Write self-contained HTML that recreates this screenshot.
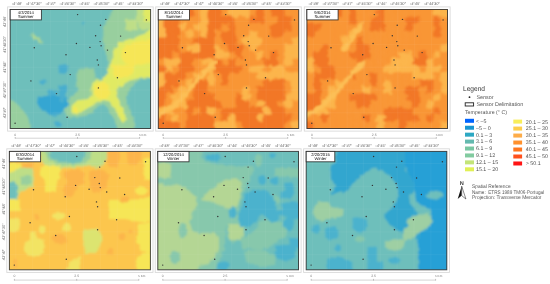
<!DOCTYPE html><html><head><meta charset="utf-8"><style>html,body{margin:0;padding:0;background:#fff;}body{width:550px;height:284px;overflow:hidden;font-family:"Liberation Sans",sans-serif;}svg{display:block} svg text{font-family:"Liberation Sans",sans-serif;text-rendering:geometricPrecision;}</style></head><body>
<svg width="550" height="284" viewBox="0 0 550 284" >
<defs><filter id="bl" x="-5%" y="-5%" width="110%" height="110%"><feTurbulence type="fractalNoise" baseFrequency="0.18" numOctaves="2" seed="7" result="n"/><feDisplacementMap in="SourceGraphic" in2="n" scale="7" xChannelSelector="R" yChannelSelector="G" result="d"/><feGaussianBlur in="d" stdDeviation="1.1"/></filter><filter id="bs" x="-5%" y="-5%" width="110%" height="110%"><feGaussianBlur stdDeviation="0.9"/></filter><filter id="bd" x="-5%" y="-5%" width="110%" height="110%"><feTurbulence type="fractalNoise" baseFrequency="0.25" numOctaves="2" seed="11" result="n"/><feDisplacementMap in="SourceGraphic" in2="n" scale="4" xChannelSelector="R" yChannelSelector="G" result="d"/><feGaussianBlur in="d" stdDeviation="0.8"/></filter>
<clipPath id="cp0"><rect x="10.20" y="9.50" width="140.40" height="119.00"/></clipPath>
<clipPath id="cp1"><rect x="158.30" y="9.50" width="140.40" height="119.00"/></clipPath>
<clipPath id="cp2"><rect x="306.90" y="9.50" width="140.60" height="119.00"/></clipPath>
<clipPath id="cp3"><rect x="9.40" y="151.40" width="141.00" height="118.40"/></clipPath>
<clipPath id="cp4"><rect x="157.80" y="151.40" width="140.70" height="118.40"/></clipPath>
<clipPath id="cp5"><rect x="306.20" y="151.40" width="140.60" height="118.40"/></clipPath>
</defs>
<rect width="550" height="284" fill="#fff"/>
<rect x="7.60" y="6.90" width="145.60" height="124.20" fill="none" stroke="#d9d9d9" stroke-width="0.9"/>
<g clip-path="url(#cp0)"><g filter="url(#bd)">
<rect x="6.20" y="5.50" width="148.40" height="127.00" fill="rgb(110,191,187)"/>
<polygon points="115.0,5.5 110.5,15.3 106.0,21.7 102.5,28.0 103.5,34.0 102.5,40.0 104.0,47.0 106.0,55.5 108.0,64.0 107.0,69.0 100.0,70.0 92.0,69.0 85.0,68.0 78.0,70.0 76.0,76.0 76.0,84.0 78.0,90.0 75.0,95.0 70.0,98.0 66.0,104.0 65.0,112.0 68.0,117.0 75.0,118.0 84.0,116.0 92.0,113.0 98.0,106.0 104.0,104.0 108.0,108.0 112.0,116.0 116.0,124.0 118.0,132.5 135.0,132.5 134.0,120.0 130.0,112.0 127.0,104.0 127.0,96.0 130.0,88.0 136.0,82.0 144.0,78.0 154.6,76.0 154.6,5.5" fill="rgb(152,207,158)"/>
<polygon points="94.0,69.0 108.0,69.0 110.0,74.0 104.0,79.0 96.0,79.0" fill="rgb(110,191,187)"/>
<polygon points="137.0,5.5 154.6,5.5 154.6,30.0 140.0,30.0 137.0,20.0" fill="rgb(190,222,135)"/>
<polygon points="143.6,5.5 154.6,5.5 154.6,21.7 143.6,21.7" fill="rgb(225,234,100)"/>
<polygon points="125.0,19.6 137.0,19.6 137.0,30.0 125.0,30.0" fill="rgb(190,222,135)"/>
<polygon points="154.6,28.0 137.3,36.5 126.7,40.7 118.3,42.8 114.0,51.3 111.9,59.7 109.0,68.0 106.0,76.0 100.0,80.0 94.0,81.0 91.0,86.0 92.0,95.0 88.0,99.0 80.0,100.0 73.0,104.0 70.0,110.0 73.0,114.0 80.0,113.0 88.0,108.0 96.0,103.0 104.0,100.0 110.0,102.0 114.0,108.0 118.0,116.0 122.0,122.0 126.0,120.0 124.0,112.0 120.0,104.0 116.0,96.0 118.0,88.0 124.0,84.0 132.0,80.0 140.0,78.0 154.6,77.0" fill="rgb(225,234,100)"/>
<polygon points="154.6,38.0 135.0,42.0 127.0,45.0 122.0,50.0 121.0,58.0 125.0,64.0 135.0,66.0 154.6,62.0" fill="rgb(246,230,86)"/>
<ellipse cx="102.0" cy="90.5" rx="8.0" ry="9.0" fill="rgb(246,230,86)"/>
<polygon points="112.0,65.0 134.0,65.0 134.0,72.0 126.0,78.0 114.0,78.0" fill="rgb(246,230,86)"/>
<ellipse cx="75.7" cy="109.5" rx="2.5" ry="2.8" fill="rgb(246,230,86)"/>
<polygon points="59.0,65.0 66.0,64.0 68.5,67.0 67.0,72.0 63.0,75.0 59.0,73.0 58.0,69.0" fill="rgb(72,174,206)"/>
<ellipse cx="43.0" cy="82.0" rx="2.8" ry="2.8" fill="rgb(72,174,206)"/>
<polygon points="58.0,85.0 66.0,84.5 67.5,88.0 65.0,93.0 59.0,92.0" fill="rgb(72,174,206)"/>
<polygon points="47.0,90.0 53.0,89.0 58.0,93.0 56.0,97.0 48.0,97.0" fill="rgb(72,174,206)"/>
<polygon points="37.0,98.0 45.0,96.0 55.0,95.5 66.0,97.0 68.5,102.0 67.0,108.0 60.0,113.0 52.0,114.5 45.0,112.0 40.0,108.0 37.0,103.0" fill="rgb(52,166,210)"/>
<ellipse cx="54.5" cy="114.5" rx="3.5" ry="1.8" fill="rgb(72,174,206)"/>
<ellipse cx="58.0" cy="124.0" rx="3.0" ry="3.0" fill="rgb(72,174,206)"/>
<ellipse cx="62.0" cy="95.0" rx="3.0" ry="8.0" fill="rgb(72,174,206)"/>
<ellipse cx="83.3" cy="23.0" rx="1.3" ry="1.3" fill="rgb(75,178,205)"/>
<polygon points="6.2,99.0 14.0,101.0 19.0,106.0 24.0,111.0 28.0,118.0 30.0,124.0 31.0,132.5 6.2,132.5" fill="rgb(152,207,158)"/>
<line x1="32.2" y1="34.8" x2="41.7" y2="42.4" stroke="rgb(152,207,158)" stroke-width="2.8" stroke-linecap="round"/>
<line x1="33.5" y1="36.0" x2="40.0" y2="41.0" stroke="rgb(190,222,135)" stroke-width="1.2" stroke-linecap="round"/>
</g></g>
<line x1="16.60" y1="9.50" x2="16.60" y2="128.50" stroke="rgba(255,255,255,0.07)" stroke-width="0.7"/>
<line x1="33.50" y1="9.50" x2="33.50" y2="128.50" stroke="rgba(255,255,255,0.07)" stroke-width="0.7"/>
<line x1="50.40" y1="9.50" x2="50.40" y2="128.50" stroke="rgba(255,255,255,0.07)" stroke-width="0.7"/>
<line x1="67.30" y1="9.50" x2="67.30" y2="128.50" stroke="rgba(255,255,255,0.07)" stroke-width="0.7"/>
<line x1="84.20" y1="9.50" x2="84.20" y2="128.50" stroke="rgba(255,255,255,0.07)" stroke-width="0.7"/>
<line x1="101.10" y1="9.50" x2="101.10" y2="128.50" stroke="rgba(255,255,255,0.07)" stroke-width="0.7"/>
<line x1="118.00" y1="9.50" x2="118.00" y2="128.50" stroke="rgba(255,255,255,0.07)" stroke-width="0.7"/>
<line x1="134.90" y1="9.50" x2="134.90" y2="128.50" stroke="rgba(255,255,255,0.07)" stroke-width="0.7"/>
<line x1="10.20" y1="21.60" x2="150.60" y2="21.60" stroke="rgba(255,255,255,0.07)" stroke-width="0.7"/>
<line x1="10.20" y1="44.40" x2="150.60" y2="44.40" stroke="rgba(255,255,255,0.07)" stroke-width="0.7"/>
<line x1="10.20" y1="67.20" x2="150.60" y2="67.20" stroke="rgba(255,255,255,0.07)" stroke-width="0.7"/>
<line x1="10.20" y1="90.00" x2="150.60" y2="90.00" stroke="rgba(255,255,255,0.07)" stroke-width="0.7"/>
<line x1="10.20" y1="112.80" x2="150.60" y2="112.80" stroke="rgba(255,255,255,0.07)" stroke-width="0.7"/>
<circle cx="34.30" cy="47.80" r="0.72" fill="#333"/>
<circle cx="66.00" cy="54.80" r="0.72" fill="#333"/>
<circle cx="76.40" cy="43.50" r="0.72" fill="#333"/>
<circle cx="77.60" cy="14.60" r="0.72" fill="#333"/>
<circle cx="105.80" cy="19.40" r="0.72" fill="#333"/>
<circle cx="100.50" cy="25.20" r="0.72" fill="#333"/>
<circle cx="95.60" cy="35.70" r="0.72" fill="#333"/>
<circle cx="120.60" cy="36.10" r="0.72" fill="#333"/>
<circle cx="100.10" cy="41.60" r="0.72" fill="#333"/>
<circle cx="101.10" cy="45.70" r="0.72" fill="#333"/>
<circle cx="89.90" cy="47.40" r="0.72" fill="#333"/>
<circle cx="107.50" cy="50.10" r="0.72" fill="#333"/>
<circle cx="125.40" cy="52.60" r="0.72" fill="#333"/>
<circle cx="97.30" cy="60.00" r="0.72" fill="#333"/>
<circle cx="98.40" cy="64.90" r="0.72" fill="#333"/>
<circle cx="146.40" cy="19.90" r="0.72" fill="#333"/>
<circle cx="30.90" cy="80.90" r="0.72" fill="#333"/>
<circle cx="56.50" cy="93.60" r="0.72" fill="#333"/>
<circle cx="67.10" cy="117.30" r="0.72" fill="#333"/>
<circle cx="15.10" cy="123.20" r="0.72" fill="#333"/>
<circle cx="70.20" cy="74.60" r="0.72" fill="#333"/>
<circle cx="117.40" cy="77.80" r="0.72" fill="#333"/>
<circle cx="98.40" cy="87.90" r="0.72" fill="#333"/>
<rect x="10.20" y="9.50" width="140.40" height="119.00" fill="none" stroke="rgba(30,30,30,0.8)" stroke-width="1"/>
<rect x="10.20" y="9.50" width="31.20" height="10.4" fill="#fff" stroke="rgba(30,30,30,0.85)" stroke-width="0.9"/>
<text opacity="0.99" x="25.80" y="13.90" font-size="4.2" text-anchor="middle" fill="#000">4/3/2014</text>
<text opacity="0.99" x="25.80" y="18.40" font-size="4.2" text-anchor="middle" fill="#000">Summer</text>
<text opacity="0.99" x="16.80" y="5.30" font-size="3.9" font-style="italic" text-anchor="middle" fill="#666">-4°48'</text>
<text opacity="0.99" x="33.70" y="5.30" font-size="3.9" font-style="italic" text-anchor="middle" fill="#666">-4°47'30&quot;</text>
<text opacity="0.99" x="50.60" y="5.30" font-size="3.9" font-style="italic" text-anchor="middle" fill="#666">-4°47'</text>
<text opacity="0.99" x="67.50" y="5.30" font-size="3.9" font-style="italic" text-anchor="middle" fill="#666">-4°46'30&quot;</text>
<text opacity="0.99" x="84.40" y="5.30" font-size="3.9" font-style="italic" text-anchor="middle" fill="#666">-4°46'</text>
<text opacity="0.99" x="101.30" y="5.30" font-size="3.9" font-style="italic" text-anchor="middle" fill="#666">-4°45'30&quot;</text>
<text opacity="0.99" x="118.20" y="5.30" font-size="3.9" font-style="italic" text-anchor="middle" fill="#666">-4°45'</text>
<text opacity="0.99" x="135.10" y="5.30" font-size="3.9" font-style="italic" text-anchor="middle" fill="#666">-4°44'30&quot;</text>
<text opacity="0.99" x="0" y="0" font-size="3.9" font-style="italic" text-anchor="middle" fill="#666" transform="translate(6.00,21.60) rotate(-90)">41°49'</text>
<text opacity="0.99" x="0" y="0" font-size="3.9" font-style="italic" text-anchor="middle" fill="#666" transform="translate(6.00,44.40) rotate(-90)">41°48'30&quot;</text>
<text opacity="0.99" x="0" y="0" font-size="3.9" font-style="italic" text-anchor="middle" fill="#666" transform="translate(6.00,67.20) rotate(-90)">41°48'</text>
<text opacity="0.99" x="0" y="0" font-size="3.9" font-style="italic" text-anchor="middle" fill="#666" transform="translate(6.00,90.00) rotate(-90)">41°47'30&quot;</text>
<text opacity="0.99" x="0" y="0" font-size="3.9" font-style="italic" text-anchor="middle" fill="#666" transform="translate(6.00,112.80) rotate(-90)">41°47'</text>
<line x1="15.20" y1="138.20" x2="139.60" y2="138.20" stroke="#cfcfcf" stroke-width="0.9"/>
<line x1="15.20" y1="137.00" x2="15.20" y2="138.70" stroke="#9a9a9a" stroke-width="0.6"/>
<line x1="77.50" y1="137.00" x2="77.50" y2="138.70" stroke="#9a9a9a" stroke-width="0.6"/>
<line x1="139.60" y1="137.00" x2="139.60" y2="138.70" stroke="#9a9a9a" stroke-width="0.6"/>
<text opacity="0.99" x="15.20" y="135.50" font-size="3.4" text-anchor="middle" fill="#777">0</text>
<text opacity="0.99" x="77.50" y="135.50" font-size="3.4" text-anchor="middle" fill="#777">2.5</text>
<text opacity="0.99" x="139.00" y="135.50" font-size="3.1" text-anchor="start" fill="#777">5 Km</text>
<rect x="155.70" y="6.90" width="145.60" height="124.20" fill="none" stroke="#d9d9d9" stroke-width="0.9"/>
<g clip-path="url(#cp1)"><g filter="url(#bl)">
<rect x="144.26" y="-4.50" width="7.62" height="7.60" fill="rgb(242,119,38)"/>
<rect x="151.28" y="-4.50" width="7.62" height="7.60" fill="rgb(242,119,38)"/>
<rect x="158.30" y="-4.50" width="7.62" height="7.60" fill="rgb(242,119,38)"/>
<rect x="165.32" y="-4.50" width="7.62" height="7.60" fill="rgb(242,119,38)"/>
<rect x="172.34" y="-4.50" width="7.62" height="7.60" fill="rgb(242,119,38)"/>
<rect x="179.36" y="-4.50" width="7.62" height="7.60" fill="rgb(242,119,38)"/>
<rect x="186.38" y="-4.50" width="7.62" height="7.60" fill="rgb(242,119,38)"/>
<rect x="193.40" y="-4.50" width="7.62" height="7.60" fill="rgb(249,150,54)"/>
<rect x="200.42" y="-4.50" width="7.62" height="7.60" fill="rgb(252,181,75)"/>
<rect x="207.44" y="-4.50" width="7.62" height="7.60" fill="rgb(242,119,38)"/>
<rect x="214.46" y="-4.50" width="7.62" height="7.60" fill="rgb(242,119,38)"/>
<rect x="221.48" y="-4.50" width="7.62" height="7.60" fill="rgb(249,150,54)"/>
<rect x="228.50" y="-4.50" width="7.62" height="7.60" fill="rgb(252,181,75)"/>
<rect x="235.52" y="-4.50" width="7.62" height="7.60" fill="rgb(252,181,75)"/>
<rect x="242.54" y="-4.50" width="7.62" height="7.60" fill="rgb(252,181,75)"/>
<rect x="249.56" y="-4.50" width="7.62" height="7.60" fill="rgb(249,150,54)"/>
<rect x="256.58" y="-4.50" width="7.62" height="7.60" fill="rgb(242,119,38)"/>
<rect x="263.60" y="-4.50" width="7.62" height="7.60" fill="rgb(249,150,54)"/>
<rect x="270.62" y="-4.50" width="7.62" height="7.60" fill="rgb(242,119,38)"/>
<rect x="277.64" y="-4.50" width="7.62" height="7.60" fill="rgb(242,119,38)"/>
<rect x="284.66" y="-4.50" width="7.62" height="7.60" fill="rgb(249,150,54)"/>
<rect x="291.68" y="-4.50" width="7.62" height="7.60" fill="rgb(249,150,54)"/>
<rect x="298.70" y="-4.50" width="7.62" height="7.60" fill="rgb(249,150,54)"/>
<rect x="305.72" y="-4.50" width="7.62" height="7.60" fill="rgb(249,150,54)"/>
<rect x="144.26" y="2.50" width="7.62" height="7.60" fill="rgb(242,119,38)"/>
<rect x="151.28" y="2.50" width="7.62" height="7.60" fill="rgb(242,119,38)"/>
<rect x="158.30" y="2.50" width="7.62" height="7.60" fill="rgb(242,119,38)"/>
<rect x="165.32" y="2.50" width="7.62" height="7.60" fill="rgb(242,119,38)"/>
<rect x="172.34" y="2.50" width="7.62" height="7.60" fill="rgb(242,119,38)"/>
<rect x="179.36" y="2.50" width="7.62" height="7.60" fill="rgb(242,119,38)"/>
<rect x="186.38" y="2.50" width="7.62" height="7.60" fill="rgb(242,119,38)"/>
<rect x="193.40" y="2.50" width="7.62" height="7.60" fill="rgb(249,150,54)"/>
<rect x="200.42" y="2.50" width="7.62" height="7.60" fill="rgb(252,181,75)"/>
<rect x="207.44" y="2.50" width="7.62" height="7.60" fill="rgb(242,119,38)"/>
<rect x="214.46" y="2.50" width="7.62" height="7.60" fill="rgb(242,119,38)"/>
<rect x="221.48" y="2.50" width="7.62" height="7.60" fill="rgb(249,150,54)"/>
<rect x="228.50" y="2.50" width="7.62" height="7.60" fill="rgb(252,181,75)"/>
<rect x="235.52" y="2.50" width="7.62" height="7.60" fill="rgb(252,181,75)"/>
<rect x="242.54" y="2.50" width="7.62" height="7.60" fill="rgb(252,181,75)"/>
<rect x="249.56" y="2.50" width="7.62" height="7.60" fill="rgb(249,150,54)"/>
<rect x="256.58" y="2.50" width="7.62" height="7.60" fill="rgb(242,119,38)"/>
<rect x="263.60" y="2.50" width="7.62" height="7.60" fill="rgb(249,150,54)"/>
<rect x="270.62" y="2.50" width="7.62" height="7.60" fill="rgb(242,119,38)"/>
<rect x="277.64" y="2.50" width="7.62" height="7.60" fill="rgb(242,119,38)"/>
<rect x="284.66" y="2.50" width="7.62" height="7.60" fill="rgb(249,150,54)"/>
<rect x="291.68" y="2.50" width="7.62" height="7.60" fill="rgb(249,150,54)"/>
<rect x="298.70" y="2.50" width="7.62" height="7.60" fill="rgb(249,150,54)"/>
<rect x="305.72" y="2.50" width="7.62" height="7.60" fill="rgb(249,150,54)"/>
<rect x="144.26" y="9.50" width="7.62" height="7.60" fill="rgb(242,119,38)"/>
<rect x="151.28" y="9.50" width="7.62" height="7.60" fill="rgb(242,119,38)"/>
<rect x="158.30" y="9.50" width="7.62" height="7.60" fill="rgb(242,119,38)"/>
<rect x="165.32" y="9.50" width="7.62" height="7.60" fill="rgb(242,119,38)"/>
<rect x="172.34" y="9.50" width="7.62" height="7.60" fill="rgb(242,119,38)"/>
<rect x="179.36" y="9.50" width="7.62" height="7.60" fill="rgb(242,119,38)"/>
<rect x="186.38" y="9.50" width="7.62" height="7.60" fill="rgb(242,119,38)"/>
<rect x="193.40" y="9.50" width="7.62" height="7.60" fill="rgb(249,150,54)"/>
<rect x="200.42" y="9.50" width="7.62" height="7.60" fill="rgb(252,181,75)"/>
<rect x="207.44" y="9.50" width="7.62" height="7.60" fill="rgb(242,119,38)"/>
<rect x="214.46" y="9.50" width="7.62" height="7.60" fill="rgb(242,119,38)"/>
<rect x="221.48" y="9.50" width="7.62" height="7.60" fill="rgb(249,150,54)"/>
<rect x="228.50" y="9.50" width="7.62" height="7.60" fill="rgb(252,181,75)"/>
<rect x="235.52" y="9.50" width="7.62" height="7.60" fill="rgb(252,181,75)"/>
<rect x="242.54" y="9.50" width="7.62" height="7.60" fill="rgb(252,181,75)"/>
<rect x="249.56" y="9.50" width="7.62" height="7.60" fill="rgb(249,150,54)"/>
<rect x="256.58" y="9.50" width="7.62" height="7.60" fill="rgb(242,119,38)"/>
<rect x="263.60" y="9.50" width="7.62" height="7.60" fill="rgb(249,150,54)"/>
<rect x="270.62" y="9.50" width="7.62" height="7.60" fill="rgb(242,119,38)"/>
<rect x="277.64" y="9.50" width="7.62" height="7.60" fill="rgb(242,119,38)"/>
<rect x="284.66" y="9.50" width="7.62" height="7.60" fill="rgb(249,150,54)"/>
<rect x="291.68" y="9.50" width="7.62" height="7.60" fill="rgb(249,150,54)"/>
<rect x="298.70" y="9.50" width="7.62" height="7.60" fill="rgb(249,150,54)"/>
<rect x="305.72" y="9.50" width="7.62" height="7.60" fill="rgb(249,150,54)"/>
<rect x="144.26" y="16.50" width="7.62" height="7.60" fill="rgb(252,181,75)"/>
<rect x="151.28" y="16.50" width="7.62" height="7.60" fill="rgb(252,181,75)"/>
<rect x="158.30" y="16.50" width="7.62" height="7.60" fill="rgb(252,181,75)"/>
<rect x="165.32" y="16.50" width="7.62" height="7.60" fill="rgb(242,119,38)"/>
<rect x="172.34" y="16.50" width="7.62" height="7.60" fill="rgb(242,119,38)"/>
<rect x="179.36" y="16.50" width="7.62" height="7.60" fill="rgb(249,150,54)"/>
<rect x="186.38" y="16.50" width="7.62" height="7.60" fill="rgb(249,150,54)"/>
<rect x="193.40" y="16.50" width="7.62" height="7.60" fill="rgb(249,150,54)"/>
<rect x="200.42" y="16.50" width="7.62" height="7.60" fill="rgb(252,181,75)"/>
<rect x="207.44" y="16.50" width="7.62" height="7.60" fill="rgb(242,119,38)"/>
<rect x="214.46" y="16.50" width="7.62" height="7.60" fill="rgb(242,119,38)"/>
<rect x="221.48" y="16.50" width="7.62" height="7.60" fill="rgb(242,119,38)"/>
<rect x="228.50" y="16.50" width="7.62" height="7.60" fill="rgb(242,119,38)"/>
<rect x="235.52" y="16.50" width="7.62" height="7.60" fill="rgb(249,150,54)"/>
<rect x="242.54" y="16.50" width="7.62" height="7.60" fill="rgb(249,150,54)"/>
<rect x="249.56" y="16.50" width="7.62" height="7.60" fill="rgb(242,119,38)"/>
<rect x="256.58" y="16.50" width="7.62" height="7.60" fill="rgb(242,119,38)"/>
<rect x="263.60" y="16.50" width="7.62" height="7.60" fill="rgb(249,150,54)"/>
<rect x="270.62" y="16.50" width="7.62" height="7.60" fill="rgb(249,150,54)"/>
<rect x="277.64" y="16.50" width="7.62" height="7.60" fill="rgb(242,119,38)"/>
<rect x="284.66" y="16.50" width="7.62" height="7.60" fill="rgb(242,119,38)"/>
<rect x="291.68" y="16.50" width="7.62" height="7.60" fill="rgb(249,150,54)"/>
<rect x="298.70" y="16.50" width="7.62" height="7.60" fill="rgb(249,150,54)"/>
<rect x="305.72" y="16.50" width="7.62" height="7.60" fill="rgb(249,150,54)"/>
<rect x="144.26" y="23.50" width="7.62" height="7.60" fill="rgb(252,181,75)"/>
<rect x="151.28" y="23.50" width="7.62" height="7.60" fill="rgb(252,181,75)"/>
<rect x="158.30" y="23.50" width="7.62" height="7.60" fill="rgb(252,181,75)"/>
<rect x="165.32" y="23.50" width="7.62" height="7.60" fill="rgb(242,119,38)"/>
<rect x="172.34" y="23.50" width="7.62" height="7.60" fill="rgb(242,119,38)"/>
<rect x="179.36" y="23.50" width="7.62" height="7.60" fill="rgb(252,181,75)"/>
<rect x="186.38" y="23.50" width="7.62" height="7.60" fill="rgb(249,150,54)"/>
<rect x="193.40" y="23.50" width="7.62" height="7.60" fill="rgb(252,181,75)"/>
<rect x="200.42" y="23.50" width="7.62" height="7.60" fill="rgb(252,181,75)"/>
<rect x="207.44" y="23.50" width="7.62" height="7.60" fill="rgb(242,119,38)"/>
<rect x="214.46" y="23.50" width="7.62" height="7.60" fill="rgb(242,119,38)"/>
<rect x="221.48" y="23.50" width="7.62" height="7.60" fill="rgb(249,150,54)"/>
<rect x="228.50" y="23.50" width="7.62" height="7.60" fill="rgb(242,119,38)"/>
<rect x="235.52" y="23.50" width="7.62" height="7.60" fill="rgb(249,150,54)"/>
<rect x="242.54" y="23.50" width="7.62" height="7.60" fill="rgb(249,150,54)"/>
<rect x="249.56" y="23.50" width="7.62" height="7.60" fill="rgb(249,150,54)"/>
<rect x="256.58" y="23.50" width="7.62" height="7.60" fill="rgb(249,150,54)"/>
<rect x="263.60" y="23.50" width="7.62" height="7.60" fill="rgb(249,150,54)"/>
<rect x="270.62" y="23.50" width="7.62" height="7.60" fill="rgb(242,119,38)"/>
<rect x="277.64" y="23.50" width="7.62" height="7.60" fill="rgb(242,119,38)"/>
<rect x="284.66" y="23.50" width="7.62" height="7.60" fill="rgb(242,119,38)"/>
<rect x="291.68" y="23.50" width="7.62" height="7.60" fill="rgb(249,150,54)"/>
<rect x="298.70" y="23.50" width="7.62" height="7.60" fill="rgb(249,150,54)"/>
<rect x="305.72" y="23.50" width="7.62" height="7.60" fill="rgb(249,150,54)"/>
<rect x="144.26" y="30.50" width="7.62" height="7.60" fill="rgb(252,181,75)"/>
<rect x="151.28" y="30.50" width="7.62" height="7.60" fill="rgb(252,181,75)"/>
<rect x="158.30" y="30.50" width="7.62" height="7.60" fill="rgb(252,181,75)"/>
<rect x="165.32" y="30.50" width="7.62" height="7.60" fill="rgb(242,119,38)"/>
<rect x="172.34" y="30.50" width="7.62" height="7.60" fill="rgb(242,119,38)"/>
<rect x="179.36" y="30.50" width="7.62" height="7.60" fill="rgb(249,150,54)"/>
<rect x="186.38" y="30.50" width="7.62" height="7.60" fill="rgb(252,181,75)"/>
<rect x="193.40" y="30.50" width="7.62" height="7.60" fill="rgb(249,150,54)"/>
<rect x="200.42" y="30.50" width="7.62" height="7.60" fill="rgb(252,181,75)"/>
<rect x="207.44" y="30.50" width="7.62" height="7.60" fill="rgb(242,119,38)"/>
<rect x="214.46" y="30.50" width="7.62" height="7.60" fill="rgb(249,150,54)"/>
<rect x="221.48" y="30.50" width="7.62" height="7.60" fill="rgb(242,119,38)"/>
<rect x="228.50" y="30.50" width="7.62" height="7.60" fill="rgb(242,119,38)"/>
<rect x="235.52" y="30.50" width="7.62" height="7.60" fill="rgb(249,150,54)"/>
<rect x="242.54" y="30.50" width="7.62" height="7.60" fill="rgb(249,150,54)"/>
<rect x="249.56" y="30.50" width="7.62" height="7.60" fill="rgb(252,181,75)"/>
<rect x="256.58" y="30.50" width="7.62" height="7.60" fill="rgb(249,150,54)"/>
<rect x="263.60" y="30.50" width="7.62" height="7.60" fill="rgb(249,150,54)"/>
<rect x="270.62" y="30.50" width="7.62" height="7.60" fill="rgb(242,119,38)"/>
<rect x="277.64" y="30.50" width="7.62" height="7.60" fill="rgb(242,119,38)"/>
<rect x="284.66" y="30.50" width="7.62" height="7.60" fill="rgb(249,150,54)"/>
<rect x="291.68" y="30.50" width="7.62" height="7.60" fill="rgb(249,150,54)"/>
<rect x="298.70" y="30.50" width="7.62" height="7.60" fill="rgb(249,150,54)"/>
<rect x="305.72" y="30.50" width="7.62" height="7.60" fill="rgb(249,150,54)"/>
<rect x="144.26" y="37.50" width="7.62" height="7.60" fill="rgb(242,119,38)"/>
<rect x="151.28" y="37.50" width="7.62" height="7.60" fill="rgb(242,119,38)"/>
<rect x="158.30" y="37.50" width="7.62" height="7.60" fill="rgb(242,119,38)"/>
<rect x="165.32" y="37.50" width="7.62" height="7.60" fill="rgb(242,119,38)"/>
<rect x="172.34" y="37.50" width="7.62" height="7.60" fill="rgb(242,119,38)"/>
<rect x="179.36" y="37.50" width="7.62" height="7.60" fill="rgb(249,150,54)"/>
<rect x="186.38" y="37.50" width="7.62" height="7.60" fill="rgb(249,150,54)"/>
<rect x="193.40" y="37.50" width="7.62" height="7.60" fill="rgb(242,119,38)"/>
<rect x="200.42" y="37.50" width="7.62" height="7.60" fill="rgb(242,119,38)"/>
<rect x="207.44" y="37.50" width="7.62" height="7.60" fill="rgb(242,119,38)"/>
<rect x="214.46" y="37.50" width="7.62" height="7.60" fill="rgb(249,150,54)"/>
<rect x="221.48" y="37.50" width="7.62" height="7.60" fill="rgb(242,119,38)"/>
<rect x="228.50" y="37.50" width="7.62" height="7.60" fill="rgb(242,119,38)"/>
<rect x="235.52" y="37.50" width="7.62" height="7.60" fill="rgb(249,150,54)"/>
<rect x="242.54" y="37.50" width="7.62" height="7.60" fill="rgb(252,181,75)"/>
<rect x="249.56" y="37.50" width="7.62" height="7.60" fill="rgb(252,181,75)"/>
<rect x="256.58" y="37.50" width="7.62" height="7.60" fill="rgb(252,181,75)"/>
<rect x="263.60" y="37.50" width="7.62" height="7.60" fill="rgb(249,150,54)"/>
<rect x="270.62" y="37.50" width="7.62" height="7.60" fill="rgb(249,150,54)"/>
<rect x="277.64" y="37.50" width="7.62" height="7.60" fill="rgb(249,150,54)"/>
<rect x="284.66" y="37.50" width="7.62" height="7.60" fill="rgb(249,150,54)"/>
<rect x="291.68" y="37.50" width="7.62" height="7.60" fill="rgb(252,181,75)"/>
<rect x="298.70" y="37.50" width="7.62" height="7.60" fill="rgb(252,181,75)"/>
<rect x="305.72" y="37.50" width="7.62" height="7.60" fill="rgb(252,181,75)"/>
<rect x="144.26" y="44.50" width="7.62" height="7.60" fill="rgb(242,119,38)"/>
<rect x="151.28" y="44.50" width="7.62" height="7.60" fill="rgb(242,119,38)"/>
<rect x="158.30" y="44.50" width="7.62" height="7.60" fill="rgb(242,119,38)"/>
<rect x="165.32" y="44.50" width="7.62" height="7.60" fill="rgb(242,119,38)"/>
<rect x="172.34" y="44.50" width="7.62" height="7.60" fill="rgb(242,119,38)"/>
<rect x="179.36" y="44.50" width="7.62" height="7.60" fill="rgb(249,150,54)"/>
<rect x="186.38" y="44.50" width="7.62" height="7.60" fill="rgb(252,181,75)"/>
<rect x="193.40" y="44.50" width="7.62" height="7.60" fill="rgb(252,181,75)"/>
<rect x="200.42" y="44.50" width="7.62" height="7.60" fill="rgb(242,119,38)"/>
<rect x="207.44" y="44.50" width="7.62" height="7.60" fill="rgb(242,119,38)"/>
<rect x="214.46" y="44.50" width="7.62" height="7.60" fill="rgb(252,181,75)"/>
<rect x="221.48" y="44.50" width="7.62" height="7.60" fill="rgb(249,150,54)"/>
<rect x="228.50" y="44.50" width="7.62" height="7.60" fill="rgb(242,119,38)"/>
<rect x="235.52" y="44.50" width="7.62" height="7.60" fill="rgb(242,119,38)"/>
<rect x="242.54" y="44.50" width="7.62" height="7.60" fill="rgb(249,150,54)"/>
<rect x="249.56" y="44.50" width="7.62" height="7.60" fill="rgb(252,181,75)"/>
<rect x="256.58" y="44.50" width="7.62" height="7.60" fill="rgb(249,150,54)"/>
<rect x="263.60" y="44.50" width="7.62" height="7.60" fill="rgb(249,150,54)"/>
<rect x="270.62" y="44.50" width="7.62" height="7.60" fill="rgb(249,150,54)"/>
<rect x="277.64" y="44.50" width="7.62" height="7.60" fill="rgb(249,150,54)"/>
<rect x="284.66" y="44.50" width="7.62" height="7.60" fill="rgb(252,181,75)"/>
<rect x="291.68" y="44.50" width="7.62" height="7.60" fill="rgb(252,181,75)"/>
<rect x="298.70" y="44.50" width="7.62" height="7.60" fill="rgb(252,181,75)"/>
<rect x="305.72" y="44.50" width="7.62" height="7.60" fill="rgb(252,181,75)"/>
<rect x="144.26" y="51.50" width="7.62" height="7.60" fill="rgb(242,119,38)"/>
<rect x="151.28" y="51.50" width="7.62" height="7.60" fill="rgb(242,119,38)"/>
<rect x="158.30" y="51.50" width="7.62" height="7.60" fill="rgb(242,119,38)"/>
<rect x="165.32" y="51.50" width="7.62" height="7.60" fill="rgb(242,119,38)"/>
<rect x="172.34" y="51.50" width="7.62" height="7.60" fill="rgb(249,150,54)"/>
<rect x="179.36" y="51.50" width="7.62" height="7.60" fill="rgb(242,119,38)"/>
<rect x="186.38" y="51.50" width="7.62" height="7.60" fill="rgb(242,119,38)"/>
<rect x="193.40" y="51.50" width="7.62" height="7.60" fill="rgb(242,119,38)"/>
<rect x="200.42" y="51.50" width="7.62" height="7.60" fill="rgb(242,119,38)"/>
<rect x="207.44" y="51.50" width="7.62" height="7.60" fill="rgb(242,119,38)"/>
<rect x="214.46" y="51.50" width="7.62" height="7.60" fill="rgb(252,181,75)"/>
<rect x="221.48" y="51.50" width="7.62" height="7.60" fill="rgb(252,181,75)"/>
<rect x="228.50" y="51.50" width="7.62" height="7.60" fill="rgb(249,150,54)"/>
<rect x="235.52" y="51.50" width="7.62" height="7.60" fill="rgb(242,119,38)"/>
<rect x="242.54" y="51.50" width="7.62" height="7.60" fill="rgb(249,150,54)"/>
<rect x="249.56" y="51.50" width="7.62" height="7.60" fill="rgb(249,150,54)"/>
<rect x="256.58" y="51.50" width="7.62" height="7.60" fill="rgb(252,181,75)"/>
<rect x="263.60" y="51.50" width="7.62" height="7.60" fill="rgb(249,150,54)"/>
<rect x="270.62" y="51.50" width="7.62" height="7.60" fill="rgb(242,119,38)"/>
<rect x="277.64" y="51.50" width="7.62" height="7.60" fill="rgb(249,150,54)"/>
<rect x="284.66" y="51.50" width="7.62" height="7.60" fill="rgb(252,181,75)"/>
<rect x="291.68" y="51.50" width="7.62" height="7.60" fill="rgb(252,181,75)"/>
<rect x="298.70" y="51.50" width="7.62" height="7.60" fill="rgb(252,181,75)"/>
<rect x="305.72" y="51.50" width="7.62" height="7.60" fill="rgb(252,181,75)"/>
<rect x="144.26" y="58.50" width="7.62" height="7.60" fill="rgb(249,150,54)"/>
<rect x="151.28" y="58.50" width="7.62" height="7.60" fill="rgb(249,150,54)"/>
<rect x="158.30" y="58.50" width="7.62" height="7.60" fill="rgb(249,150,54)"/>
<rect x="165.32" y="58.50" width="7.62" height="7.60" fill="rgb(252,181,75)"/>
<rect x="172.34" y="58.50" width="7.62" height="7.60" fill="rgb(252,181,75)"/>
<rect x="179.36" y="58.50" width="7.62" height="7.60" fill="rgb(242,119,38)"/>
<rect x="186.38" y="58.50" width="7.62" height="7.60" fill="rgb(242,119,38)"/>
<rect x="193.40" y="58.50" width="7.62" height="7.60" fill="rgb(249,150,54)"/>
<rect x="200.42" y="58.50" width="7.62" height="7.60" fill="rgb(252,181,75)"/>
<rect x="207.44" y="58.50" width="7.62" height="7.60" fill="rgb(252,181,75)"/>
<rect x="214.46" y="58.50" width="7.62" height="7.60" fill="rgb(242,119,38)"/>
<rect x="221.48" y="58.50" width="7.62" height="7.60" fill="rgb(249,150,54)"/>
<rect x="228.50" y="58.50" width="7.62" height="7.60" fill="rgb(242,119,38)"/>
<rect x="235.52" y="58.50" width="7.62" height="7.60" fill="rgb(249,150,54)"/>
<rect x="242.54" y="58.50" width="7.62" height="7.60" fill="rgb(249,150,54)"/>
<rect x="249.56" y="58.50" width="7.62" height="7.60" fill="rgb(249,150,54)"/>
<rect x="256.58" y="58.50" width="7.62" height="7.60" fill="rgb(249,150,54)"/>
<rect x="263.60" y="58.50" width="7.62" height="7.60" fill="rgb(242,119,38)"/>
<rect x="270.62" y="58.50" width="7.62" height="7.60" fill="rgb(242,119,38)"/>
<rect x="277.64" y="58.50" width="7.62" height="7.60" fill="rgb(249,150,54)"/>
<rect x="284.66" y="58.50" width="7.62" height="7.60" fill="rgb(252,181,75)"/>
<rect x="291.68" y="58.50" width="7.62" height="7.60" fill="rgb(249,150,54)"/>
<rect x="298.70" y="58.50" width="7.62" height="7.60" fill="rgb(249,150,54)"/>
<rect x="305.72" y="58.50" width="7.62" height="7.60" fill="rgb(249,150,54)"/>
<rect x="144.26" y="65.50" width="7.62" height="7.60" fill="rgb(242,119,38)"/>
<rect x="151.28" y="65.50" width="7.62" height="7.60" fill="rgb(242,119,38)"/>
<rect x="158.30" y="65.50" width="7.62" height="7.60" fill="rgb(242,119,38)"/>
<rect x="165.32" y="65.50" width="7.62" height="7.60" fill="rgb(252,181,75)"/>
<rect x="172.34" y="65.50" width="7.62" height="7.60" fill="rgb(249,150,54)"/>
<rect x="179.36" y="65.50" width="7.62" height="7.60" fill="rgb(242,119,38)"/>
<rect x="186.38" y="65.50" width="7.62" height="7.60" fill="rgb(242,119,38)"/>
<rect x="193.40" y="65.50" width="7.62" height="7.60" fill="rgb(249,150,54)"/>
<rect x="200.42" y="65.50" width="7.62" height="7.60" fill="rgb(249,150,54)"/>
<rect x="207.44" y="65.50" width="7.62" height="7.60" fill="rgb(252,181,75)"/>
<rect x="214.46" y="65.50" width="7.62" height="7.60" fill="rgb(242,119,38)"/>
<rect x="221.48" y="65.50" width="7.62" height="7.60" fill="rgb(242,119,38)"/>
<rect x="228.50" y="65.50" width="7.62" height="7.60" fill="rgb(242,119,38)"/>
<rect x="235.52" y="65.50" width="7.62" height="7.60" fill="rgb(242,119,38)"/>
<rect x="242.54" y="65.50" width="7.62" height="7.60" fill="rgb(249,150,54)"/>
<rect x="249.56" y="65.50" width="7.62" height="7.60" fill="rgb(252,181,75)"/>
<rect x="256.58" y="65.50" width="7.62" height="7.60" fill="rgb(252,181,75)"/>
<rect x="263.60" y="65.50" width="7.62" height="7.60" fill="rgb(249,150,54)"/>
<rect x="270.62" y="65.50" width="7.62" height="7.60" fill="rgb(252,181,75)"/>
<rect x="277.64" y="65.50" width="7.62" height="7.60" fill="rgb(252,181,75)"/>
<rect x="284.66" y="65.50" width="7.62" height="7.60" fill="rgb(249,150,54)"/>
<rect x="291.68" y="65.50" width="7.62" height="7.60" fill="rgb(249,150,54)"/>
<rect x="298.70" y="65.50" width="7.62" height="7.60" fill="rgb(249,150,54)"/>
<rect x="305.72" y="65.50" width="7.62" height="7.60" fill="rgb(249,150,54)"/>
<rect x="144.26" y="72.50" width="7.62" height="7.60" fill="rgb(252,181,75)"/>
<rect x="151.28" y="72.50" width="7.62" height="7.60" fill="rgb(252,181,75)"/>
<rect x="158.30" y="72.50" width="7.62" height="7.60" fill="rgb(252,181,75)"/>
<rect x="165.32" y="72.50" width="7.62" height="7.60" fill="rgb(242,119,38)"/>
<rect x="172.34" y="72.50" width="7.62" height="7.60" fill="rgb(242,119,38)"/>
<rect x="179.36" y="72.50" width="7.62" height="7.60" fill="rgb(242,119,38)"/>
<rect x="186.38" y="72.50" width="7.62" height="7.60" fill="rgb(249,150,54)"/>
<rect x="193.40" y="72.50" width="7.62" height="7.60" fill="rgb(252,181,75)"/>
<rect x="200.42" y="72.50" width="7.62" height="7.60" fill="rgb(249,150,54)"/>
<rect x="207.44" y="72.50" width="7.62" height="7.60" fill="rgb(252,181,75)"/>
<rect x="214.46" y="72.50" width="7.62" height="7.60" fill="rgb(249,150,54)"/>
<rect x="221.48" y="72.50" width="7.62" height="7.60" fill="rgb(242,119,38)"/>
<rect x="228.50" y="72.50" width="7.62" height="7.60" fill="rgb(249,150,54)"/>
<rect x="235.52" y="72.50" width="7.62" height="7.60" fill="rgb(249,150,54)"/>
<rect x="242.54" y="72.50" width="7.62" height="7.60" fill="rgb(249,150,54)"/>
<rect x="249.56" y="72.50" width="7.62" height="7.60" fill="rgb(249,150,54)"/>
<rect x="256.58" y="72.50" width="7.62" height="7.60" fill="rgb(252,181,75)"/>
<rect x="263.60" y="72.50" width="7.62" height="7.60" fill="rgb(252,181,75)"/>
<rect x="270.62" y="72.50" width="7.62" height="7.60" fill="rgb(252,181,75)"/>
<rect x="277.64" y="72.50" width="7.62" height="7.60" fill="rgb(252,181,75)"/>
<rect x="284.66" y="72.50" width="7.62" height="7.60" fill="rgb(252,181,75)"/>
<rect x="291.68" y="72.50" width="7.62" height="7.60" fill="rgb(252,181,75)"/>
<rect x="298.70" y="72.50" width="7.62" height="7.60" fill="rgb(252,181,75)"/>
<rect x="305.72" y="72.50" width="7.62" height="7.60" fill="rgb(252,181,75)"/>
<rect x="144.26" y="79.50" width="7.62" height="7.60" fill="rgb(252,181,75)"/>
<rect x="151.28" y="79.50" width="7.62" height="7.60" fill="rgb(252,181,75)"/>
<rect x="158.30" y="79.50" width="7.62" height="7.60" fill="rgb(252,181,75)"/>
<rect x="165.32" y="79.50" width="7.62" height="7.60" fill="rgb(242,119,38)"/>
<rect x="172.34" y="79.50" width="7.62" height="7.60" fill="rgb(242,119,38)"/>
<rect x="179.36" y="79.50" width="7.62" height="7.60" fill="rgb(249,150,54)"/>
<rect x="186.38" y="79.50" width="7.62" height="7.60" fill="rgb(252,181,75)"/>
<rect x="193.40" y="79.50" width="7.62" height="7.60" fill="rgb(242,119,38)"/>
<rect x="200.42" y="79.50" width="7.62" height="7.60" fill="rgb(242,119,38)"/>
<rect x="207.44" y="79.50" width="7.62" height="7.60" fill="rgb(252,181,75)"/>
<rect x="214.46" y="79.50" width="7.62" height="7.60" fill="rgb(249,150,54)"/>
<rect x="221.48" y="79.50" width="7.62" height="7.60" fill="rgb(242,119,38)"/>
<rect x="228.50" y="79.50" width="7.62" height="7.60" fill="rgb(249,150,54)"/>
<rect x="235.52" y="79.50" width="7.62" height="7.60" fill="rgb(249,150,54)"/>
<rect x="242.54" y="79.50" width="7.62" height="7.60" fill="rgb(249,150,54)"/>
<rect x="249.56" y="79.50" width="7.62" height="7.60" fill="rgb(249,150,54)"/>
<rect x="256.58" y="79.50" width="7.62" height="7.60" fill="rgb(249,150,54)"/>
<rect x="263.60" y="79.50" width="7.62" height="7.60" fill="rgb(242,119,38)"/>
<rect x="270.62" y="79.50" width="7.62" height="7.60" fill="rgb(242,119,38)"/>
<rect x="277.64" y="79.50" width="7.62" height="7.60" fill="rgb(242,119,38)"/>
<rect x="284.66" y="79.50" width="7.62" height="7.60" fill="rgb(249,150,54)"/>
<rect x="291.68" y="79.50" width="7.62" height="7.60" fill="rgb(252,181,75)"/>
<rect x="298.70" y="79.50" width="7.62" height="7.60" fill="rgb(252,181,75)"/>
<rect x="305.72" y="79.50" width="7.62" height="7.60" fill="rgb(252,181,75)"/>
<rect x="144.26" y="86.50" width="7.62" height="7.60" fill="rgb(242,119,38)"/>
<rect x="151.28" y="86.50" width="7.62" height="7.60" fill="rgb(242,119,38)"/>
<rect x="158.30" y="86.50" width="7.62" height="7.60" fill="rgb(242,119,38)"/>
<rect x="165.32" y="86.50" width="7.62" height="7.60" fill="rgb(242,119,38)"/>
<rect x="172.34" y="86.50" width="7.62" height="7.60" fill="rgb(249,150,54)"/>
<rect x="179.36" y="86.50" width="7.62" height="7.60" fill="rgb(252,181,75)"/>
<rect x="186.38" y="86.50" width="7.62" height="7.60" fill="rgb(249,150,54)"/>
<rect x="193.40" y="86.50" width="7.62" height="7.60" fill="rgb(242,119,38)"/>
<rect x="200.42" y="86.50" width="7.62" height="7.60" fill="rgb(242,119,38)"/>
<rect x="207.44" y="86.50" width="7.62" height="7.60" fill="rgb(249,150,54)"/>
<rect x="214.46" y="86.50" width="7.62" height="7.60" fill="rgb(249,150,54)"/>
<rect x="221.48" y="86.50" width="7.62" height="7.60" fill="rgb(249,150,54)"/>
<rect x="228.50" y="86.50" width="7.62" height="7.60" fill="rgb(249,150,54)"/>
<rect x="235.52" y="86.50" width="7.62" height="7.60" fill="rgb(249,150,54)"/>
<rect x="242.54" y="86.50" width="7.62" height="7.60" fill="rgb(252,181,75)"/>
<rect x="249.56" y="86.50" width="7.62" height="7.60" fill="rgb(249,150,54)"/>
<rect x="256.58" y="86.50" width="7.62" height="7.60" fill="rgb(242,119,38)"/>
<rect x="263.60" y="86.50" width="7.62" height="7.60" fill="rgb(242,119,38)"/>
<rect x="270.62" y="86.50" width="7.62" height="7.60" fill="rgb(242,119,38)"/>
<rect x="277.64" y="86.50" width="7.62" height="7.60" fill="rgb(242,119,38)"/>
<rect x="284.66" y="86.50" width="7.62" height="7.60" fill="rgb(249,150,54)"/>
<rect x="291.68" y="86.50" width="7.62" height="7.60" fill="rgb(252,181,75)"/>
<rect x="298.70" y="86.50" width="7.62" height="7.60" fill="rgb(252,181,75)"/>
<rect x="305.72" y="86.50" width="7.62" height="7.60" fill="rgb(252,181,75)"/>
<rect x="144.26" y="93.50" width="7.62" height="7.60" fill="rgb(242,119,38)"/>
<rect x="151.28" y="93.50" width="7.62" height="7.60" fill="rgb(242,119,38)"/>
<rect x="158.30" y="93.50" width="7.62" height="7.60" fill="rgb(242,119,38)"/>
<rect x="165.32" y="93.50" width="7.62" height="7.60" fill="rgb(249,150,54)"/>
<rect x="172.34" y="93.50" width="7.62" height="7.60" fill="rgb(252,181,75)"/>
<rect x="179.36" y="93.50" width="7.62" height="7.60" fill="rgb(252,181,75)"/>
<rect x="186.38" y="93.50" width="7.62" height="7.60" fill="rgb(249,150,54)"/>
<rect x="193.40" y="93.50" width="7.62" height="7.60" fill="rgb(242,119,38)"/>
<rect x="200.42" y="93.50" width="7.62" height="7.60" fill="rgb(242,119,38)"/>
<rect x="207.44" y="93.50" width="7.62" height="7.60" fill="rgb(242,119,38)"/>
<rect x="214.46" y="93.50" width="7.62" height="7.60" fill="rgb(249,150,54)"/>
<rect x="221.48" y="93.50" width="7.62" height="7.60" fill="rgb(249,150,54)"/>
<rect x="228.50" y="93.50" width="7.62" height="7.60" fill="rgb(249,150,54)"/>
<rect x="235.52" y="93.50" width="7.62" height="7.60" fill="rgb(242,119,38)"/>
<rect x="242.54" y="93.50" width="7.62" height="7.60" fill="rgb(252,181,75)"/>
<rect x="249.56" y="93.50" width="7.62" height="7.60" fill="rgb(249,150,54)"/>
<rect x="256.58" y="93.50" width="7.62" height="7.60" fill="rgb(242,119,38)"/>
<rect x="263.60" y="93.50" width="7.62" height="7.60" fill="rgb(242,119,38)"/>
<rect x="270.62" y="93.50" width="7.62" height="7.60" fill="rgb(242,119,38)"/>
<rect x="277.64" y="93.50" width="7.62" height="7.60" fill="rgb(242,119,38)"/>
<rect x="284.66" y="93.50" width="7.62" height="7.60" fill="rgb(252,181,75)"/>
<rect x="291.68" y="93.50" width="7.62" height="7.60" fill="rgb(252,181,75)"/>
<rect x="298.70" y="93.50" width="7.62" height="7.60" fill="rgb(252,181,75)"/>
<rect x="305.72" y="93.50" width="7.62" height="7.60" fill="rgb(252,181,75)"/>
<rect x="144.26" y="100.50" width="7.62" height="7.60" fill="rgb(242,119,38)"/>
<rect x="151.28" y="100.50" width="7.62" height="7.60" fill="rgb(242,119,38)"/>
<rect x="158.30" y="100.50" width="7.62" height="7.60" fill="rgb(242,119,38)"/>
<rect x="165.32" y="100.50" width="7.62" height="7.60" fill="rgb(249,150,54)"/>
<rect x="172.34" y="100.50" width="7.62" height="7.60" fill="rgb(252,181,75)"/>
<rect x="179.36" y="100.50" width="7.62" height="7.60" fill="rgb(252,181,75)"/>
<rect x="186.38" y="100.50" width="7.62" height="7.60" fill="rgb(242,119,38)"/>
<rect x="193.40" y="100.50" width="7.62" height="7.60" fill="rgb(242,119,38)"/>
<rect x="200.42" y="100.50" width="7.62" height="7.60" fill="rgb(242,119,38)"/>
<rect x="207.44" y="100.50" width="7.62" height="7.60" fill="rgb(242,119,38)"/>
<rect x="214.46" y="100.50" width="7.62" height="7.60" fill="rgb(242,119,38)"/>
<rect x="221.48" y="100.50" width="7.62" height="7.60" fill="rgb(249,150,54)"/>
<rect x="228.50" y="100.50" width="7.62" height="7.60" fill="rgb(249,150,54)"/>
<rect x="235.52" y="100.50" width="7.62" height="7.60" fill="rgb(242,119,38)"/>
<rect x="242.54" y="100.50" width="7.62" height="7.60" fill="rgb(242,119,38)"/>
<rect x="249.56" y="100.50" width="7.62" height="7.60" fill="rgb(249,150,54)"/>
<rect x="256.58" y="100.50" width="7.62" height="7.60" fill="rgb(252,181,75)"/>
<rect x="263.60" y="100.50" width="7.62" height="7.60" fill="rgb(242,119,38)"/>
<rect x="270.62" y="100.50" width="7.62" height="7.60" fill="rgb(242,119,38)"/>
<rect x="277.64" y="100.50" width="7.62" height="7.60" fill="rgb(249,150,54)"/>
<rect x="284.66" y="100.50" width="7.62" height="7.60" fill="rgb(252,181,75)"/>
<rect x="291.68" y="100.50" width="7.62" height="7.60" fill="rgb(249,150,54)"/>
<rect x="298.70" y="100.50" width="7.62" height="7.60" fill="rgb(249,150,54)"/>
<rect x="305.72" y="100.50" width="7.62" height="7.60" fill="rgb(249,150,54)"/>
<rect x="144.26" y="107.50" width="7.62" height="7.60" fill="rgb(252,181,75)"/>
<rect x="151.28" y="107.50" width="7.62" height="7.60" fill="rgb(252,181,75)"/>
<rect x="158.30" y="107.50" width="7.62" height="7.60" fill="rgb(252,181,75)"/>
<rect x="165.32" y="107.50" width="7.62" height="7.60" fill="rgb(252,181,75)"/>
<rect x="172.34" y="107.50" width="7.62" height="7.60" fill="rgb(249,150,54)"/>
<rect x="179.36" y="107.50" width="7.62" height="7.60" fill="rgb(249,150,54)"/>
<rect x="186.38" y="107.50" width="7.62" height="7.60" fill="rgb(242,119,38)"/>
<rect x="193.40" y="107.50" width="7.62" height="7.60" fill="rgb(249,150,54)"/>
<rect x="200.42" y="107.50" width="7.62" height="7.60" fill="rgb(242,119,38)"/>
<rect x="207.44" y="107.50" width="7.62" height="7.60" fill="rgb(252,181,75)"/>
<rect x="214.46" y="107.50" width="7.62" height="7.60" fill="rgb(249,150,54)"/>
<rect x="221.48" y="107.50" width="7.62" height="7.60" fill="rgb(242,119,38)"/>
<rect x="228.50" y="107.50" width="7.62" height="7.60" fill="rgb(242,119,38)"/>
<rect x="235.52" y="107.50" width="7.62" height="7.60" fill="rgb(242,119,38)"/>
<rect x="242.54" y="107.50" width="7.62" height="7.60" fill="rgb(242,119,38)"/>
<rect x="249.56" y="107.50" width="7.62" height="7.60" fill="rgb(242,119,38)"/>
<rect x="256.58" y="107.50" width="7.62" height="7.60" fill="rgb(242,119,38)"/>
<rect x="263.60" y="107.50" width="7.62" height="7.60" fill="rgb(252,181,75)"/>
<rect x="270.62" y="107.50" width="7.62" height="7.60" fill="rgb(242,119,38)"/>
<rect x="277.64" y="107.50" width="7.62" height="7.60" fill="rgb(242,119,38)"/>
<rect x="284.66" y="107.50" width="7.62" height="7.60" fill="rgb(249,150,54)"/>
<rect x="291.68" y="107.50" width="7.62" height="7.60" fill="rgb(249,150,54)"/>
<rect x="298.70" y="107.50" width="7.62" height="7.60" fill="rgb(249,150,54)"/>
<rect x="305.72" y="107.50" width="7.62" height="7.60" fill="rgb(249,150,54)"/>
<rect x="144.26" y="114.50" width="7.62" height="7.60" fill="rgb(242,119,38)"/>
<rect x="151.28" y="114.50" width="7.62" height="7.60" fill="rgb(242,119,38)"/>
<rect x="158.30" y="114.50" width="7.62" height="7.60" fill="rgb(242,119,38)"/>
<rect x="165.32" y="114.50" width="7.62" height="7.60" fill="rgb(249,150,54)"/>
<rect x="172.34" y="114.50" width="7.62" height="7.60" fill="rgb(252,181,75)"/>
<rect x="179.36" y="114.50" width="7.62" height="7.60" fill="rgb(249,150,54)"/>
<rect x="186.38" y="114.50" width="7.62" height="7.60" fill="rgb(242,119,38)"/>
<rect x="193.40" y="114.50" width="7.62" height="7.60" fill="rgb(242,119,38)"/>
<rect x="200.42" y="114.50" width="7.62" height="7.60" fill="rgb(242,119,38)"/>
<rect x="207.44" y="114.50" width="7.62" height="7.60" fill="rgb(242,119,38)"/>
<rect x="214.46" y="114.50" width="7.62" height="7.60" fill="rgb(249,150,54)"/>
<rect x="221.48" y="114.50" width="7.62" height="7.60" fill="rgb(242,119,38)"/>
<rect x="228.50" y="114.50" width="7.62" height="7.60" fill="rgb(252,181,75)"/>
<rect x="235.52" y="114.50" width="7.62" height="7.60" fill="rgb(242,119,38)"/>
<rect x="242.54" y="114.50" width="7.62" height="7.60" fill="rgb(242,119,38)"/>
<rect x="249.56" y="114.50" width="7.62" height="7.60" fill="rgb(242,119,38)"/>
<rect x="256.58" y="114.50" width="7.62" height="7.60" fill="rgb(252,181,75)"/>
<rect x="263.60" y="114.50" width="7.62" height="7.60" fill="rgb(242,119,38)"/>
<rect x="270.62" y="114.50" width="7.62" height="7.60" fill="rgb(242,119,38)"/>
<rect x="277.64" y="114.50" width="7.62" height="7.60" fill="rgb(242,119,38)"/>
<rect x="284.66" y="114.50" width="7.62" height="7.60" fill="rgb(242,119,38)"/>
<rect x="291.68" y="114.50" width="7.62" height="7.60" fill="rgb(249,150,54)"/>
<rect x="298.70" y="114.50" width="7.62" height="7.60" fill="rgb(249,150,54)"/>
<rect x="305.72" y="114.50" width="7.62" height="7.60" fill="rgb(249,150,54)"/>
<rect x="144.26" y="121.50" width="7.62" height="7.60" fill="rgb(242,119,38)"/>
<rect x="151.28" y="121.50" width="7.62" height="7.60" fill="rgb(242,119,38)"/>
<rect x="158.30" y="121.50" width="7.62" height="7.60" fill="rgb(242,119,38)"/>
<rect x="165.32" y="121.50" width="7.62" height="7.60" fill="rgb(242,119,38)"/>
<rect x="172.34" y="121.50" width="7.62" height="7.60" fill="rgb(242,119,38)"/>
<rect x="179.36" y="121.50" width="7.62" height="7.60" fill="rgb(249,150,54)"/>
<rect x="186.38" y="121.50" width="7.62" height="7.60" fill="rgb(242,119,38)"/>
<rect x="193.40" y="121.50" width="7.62" height="7.60" fill="rgb(242,119,38)"/>
<rect x="200.42" y="121.50" width="7.62" height="7.60" fill="rgb(242,119,38)"/>
<rect x="207.44" y="121.50" width="7.62" height="7.60" fill="rgb(242,119,38)"/>
<rect x="214.46" y="121.50" width="7.62" height="7.60" fill="rgb(252,181,75)"/>
<rect x="221.48" y="121.50" width="7.62" height="7.60" fill="rgb(252,181,75)"/>
<rect x="228.50" y="121.50" width="7.62" height="7.60" fill="rgb(252,181,75)"/>
<rect x="235.52" y="121.50" width="7.62" height="7.60" fill="rgb(249,150,54)"/>
<rect x="242.54" y="121.50" width="7.62" height="7.60" fill="rgb(242,119,38)"/>
<rect x="249.56" y="121.50" width="7.62" height="7.60" fill="rgb(242,119,38)"/>
<rect x="256.58" y="121.50" width="7.62" height="7.60" fill="rgb(242,119,38)"/>
<rect x="263.60" y="121.50" width="7.62" height="7.60" fill="rgb(242,119,38)"/>
<rect x="270.62" y="121.50" width="7.62" height="7.60" fill="rgb(242,119,38)"/>
<rect x="277.64" y="121.50" width="7.62" height="7.60" fill="rgb(242,119,38)"/>
<rect x="284.66" y="121.50" width="7.62" height="7.60" fill="rgb(249,150,54)"/>
<rect x="291.68" y="121.50" width="7.62" height="7.60" fill="rgb(252,181,75)"/>
<rect x="298.70" y="121.50" width="7.62" height="7.60" fill="rgb(252,181,75)"/>
<rect x="305.72" y="121.50" width="7.62" height="7.60" fill="rgb(252,181,75)"/>
<rect x="144.26" y="128.50" width="7.62" height="7.60" fill="rgb(242,119,38)"/>
<rect x="151.28" y="128.50" width="7.62" height="7.60" fill="rgb(242,119,38)"/>
<rect x="158.30" y="128.50" width="7.62" height="7.60" fill="rgb(242,119,38)"/>
<rect x="165.32" y="128.50" width="7.62" height="7.60" fill="rgb(242,119,38)"/>
<rect x="172.34" y="128.50" width="7.62" height="7.60" fill="rgb(242,119,38)"/>
<rect x="179.36" y="128.50" width="7.62" height="7.60" fill="rgb(249,150,54)"/>
<rect x="186.38" y="128.50" width="7.62" height="7.60" fill="rgb(242,119,38)"/>
<rect x="193.40" y="128.50" width="7.62" height="7.60" fill="rgb(242,119,38)"/>
<rect x="200.42" y="128.50" width="7.62" height="7.60" fill="rgb(242,119,38)"/>
<rect x="207.44" y="128.50" width="7.62" height="7.60" fill="rgb(242,119,38)"/>
<rect x="214.46" y="128.50" width="7.62" height="7.60" fill="rgb(252,181,75)"/>
<rect x="221.48" y="128.50" width="7.62" height="7.60" fill="rgb(252,181,75)"/>
<rect x="228.50" y="128.50" width="7.62" height="7.60" fill="rgb(252,181,75)"/>
<rect x="235.52" y="128.50" width="7.62" height="7.60" fill="rgb(249,150,54)"/>
<rect x="242.54" y="128.50" width="7.62" height="7.60" fill="rgb(242,119,38)"/>
<rect x="249.56" y="128.50" width="7.62" height="7.60" fill="rgb(242,119,38)"/>
<rect x="256.58" y="128.50" width="7.62" height="7.60" fill="rgb(242,119,38)"/>
<rect x="263.60" y="128.50" width="7.62" height="7.60" fill="rgb(242,119,38)"/>
<rect x="270.62" y="128.50" width="7.62" height="7.60" fill="rgb(242,119,38)"/>
<rect x="277.64" y="128.50" width="7.62" height="7.60" fill="rgb(242,119,38)"/>
<rect x="284.66" y="128.50" width="7.62" height="7.60" fill="rgb(249,150,54)"/>
<rect x="291.68" y="128.50" width="7.62" height="7.60" fill="rgb(252,181,75)"/>
<rect x="298.70" y="128.50" width="7.62" height="7.60" fill="rgb(252,181,75)"/>
<rect x="305.72" y="128.50" width="7.62" height="7.60" fill="rgb(252,181,75)"/>
<rect x="144.26" y="135.50" width="7.62" height="7.60" fill="rgb(242,119,38)"/>
<rect x="151.28" y="135.50" width="7.62" height="7.60" fill="rgb(242,119,38)"/>
<rect x="158.30" y="135.50" width="7.62" height="7.60" fill="rgb(242,119,38)"/>
<rect x="165.32" y="135.50" width="7.62" height="7.60" fill="rgb(242,119,38)"/>
<rect x="172.34" y="135.50" width="7.62" height="7.60" fill="rgb(242,119,38)"/>
<rect x="179.36" y="135.50" width="7.62" height="7.60" fill="rgb(249,150,54)"/>
<rect x="186.38" y="135.50" width="7.62" height="7.60" fill="rgb(242,119,38)"/>
<rect x="193.40" y="135.50" width="7.62" height="7.60" fill="rgb(242,119,38)"/>
<rect x="200.42" y="135.50" width="7.62" height="7.60" fill="rgb(242,119,38)"/>
<rect x="207.44" y="135.50" width="7.62" height="7.60" fill="rgb(242,119,38)"/>
<rect x="214.46" y="135.50" width="7.62" height="7.60" fill="rgb(252,181,75)"/>
<rect x="221.48" y="135.50" width="7.62" height="7.60" fill="rgb(252,181,75)"/>
<rect x="228.50" y="135.50" width="7.62" height="7.60" fill="rgb(252,181,75)"/>
<rect x="235.52" y="135.50" width="7.62" height="7.60" fill="rgb(249,150,54)"/>
<rect x="242.54" y="135.50" width="7.62" height="7.60" fill="rgb(242,119,38)"/>
<rect x="249.56" y="135.50" width="7.62" height="7.60" fill="rgb(242,119,38)"/>
<rect x="256.58" y="135.50" width="7.62" height="7.60" fill="rgb(242,119,38)"/>
<rect x="263.60" y="135.50" width="7.62" height="7.60" fill="rgb(242,119,38)"/>
<rect x="270.62" y="135.50" width="7.62" height="7.60" fill="rgb(242,119,38)"/>
<rect x="277.64" y="135.50" width="7.62" height="7.60" fill="rgb(242,119,38)"/>
<rect x="284.66" y="135.50" width="7.62" height="7.60" fill="rgb(249,150,54)"/>
<rect x="291.68" y="135.50" width="7.62" height="7.60" fill="rgb(252,181,75)"/>
<rect x="298.70" y="135.50" width="7.62" height="7.60" fill="rgb(252,181,75)"/>
<rect x="305.72" y="135.50" width="7.62" height="7.60" fill="rgb(252,181,75)"/>
</g></g>
<g clip-path="url(#cp1)"><g filter="url(#bl)">
<polyline points="215.0,62.0 205.0,72.0 195.0,83.0 185.0,94.0 178.0,103.0 170.0,108.0 162.0,113.0 157.0,116.0" fill="none" stroke="rgb(252,192,86)" stroke-width="4.5" stroke-linecap="round" stroke-linejoin="round"/>
</g></g>
<line x1="164.70" y1="9.50" x2="164.70" y2="128.50" stroke="rgba(255,255,255,0.07)" stroke-width="0.7"/>
<line x1="181.60" y1="9.50" x2="181.60" y2="128.50" stroke="rgba(255,255,255,0.07)" stroke-width="0.7"/>
<line x1="198.50" y1="9.50" x2="198.50" y2="128.50" stroke="rgba(255,255,255,0.07)" stroke-width="0.7"/>
<line x1="215.40" y1="9.50" x2="215.40" y2="128.50" stroke="rgba(255,255,255,0.07)" stroke-width="0.7"/>
<line x1="232.30" y1="9.50" x2="232.30" y2="128.50" stroke="rgba(255,255,255,0.07)" stroke-width="0.7"/>
<line x1="249.20" y1="9.50" x2="249.20" y2="128.50" stroke="rgba(255,255,255,0.07)" stroke-width="0.7"/>
<line x1="266.10" y1="9.50" x2="266.10" y2="128.50" stroke="rgba(255,255,255,0.07)" stroke-width="0.7"/>
<line x1="283.00" y1="9.50" x2="283.00" y2="128.50" stroke="rgba(255,255,255,0.07)" stroke-width="0.7"/>
<line x1="158.30" y1="21.60" x2="298.70" y2="21.60" stroke="rgba(255,255,255,0.07)" stroke-width="0.7"/>
<line x1="158.30" y1="44.40" x2="298.70" y2="44.40" stroke="rgba(255,255,255,0.07)" stroke-width="0.7"/>
<line x1="158.30" y1="67.20" x2="298.70" y2="67.20" stroke="rgba(255,255,255,0.07)" stroke-width="0.7"/>
<line x1="158.30" y1="90.00" x2="298.70" y2="90.00" stroke="rgba(255,255,255,0.07)" stroke-width="0.7"/>
<line x1="158.30" y1="112.80" x2="298.70" y2="112.80" stroke="rgba(255,255,255,0.07)" stroke-width="0.7"/>
<circle cx="182.40" cy="47.80" r="0.72" fill="#333"/>
<circle cx="214.10" cy="54.80" r="0.72" fill="#333"/>
<circle cx="224.50" cy="43.50" r="0.72" fill="#333"/>
<circle cx="225.70" cy="14.60" r="0.72" fill="#333"/>
<circle cx="253.90" cy="19.40" r="0.72" fill="#333"/>
<circle cx="248.60" cy="25.20" r="0.72" fill="#333"/>
<circle cx="243.70" cy="35.70" r="0.72" fill="#333"/>
<circle cx="268.70" cy="36.10" r="0.72" fill="#333"/>
<circle cx="248.20" cy="41.60" r="0.72" fill="#333"/>
<circle cx="249.20" cy="45.70" r="0.72" fill="#333"/>
<circle cx="238.00" cy="47.40" r="0.72" fill="#333"/>
<circle cx="255.60" cy="50.10" r="0.72" fill="#333"/>
<circle cx="273.50" cy="52.60" r="0.72" fill="#333"/>
<circle cx="245.40" cy="60.00" r="0.72" fill="#333"/>
<circle cx="246.50" cy="64.90" r="0.72" fill="#333"/>
<circle cx="294.50" cy="19.90" r="0.72" fill="#333"/>
<circle cx="179.00" cy="80.90" r="0.72" fill="#333"/>
<circle cx="204.60" cy="93.60" r="0.72" fill="#333"/>
<circle cx="215.20" cy="117.30" r="0.72" fill="#333"/>
<circle cx="163.20" cy="123.20" r="0.72" fill="#333"/>
<circle cx="218.30" cy="74.60" r="0.72" fill="#333"/>
<circle cx="265.50" cy="77.80" r="0.72" fill="#333"/>
<circle cx="246.50" cy="87.90" r="0.72" fill="#333"/>
<rect x="158.30" y="9.50" width="140.40" height="119.00" fill="none" stroke="rgba(30,30,30,0.8)" stroke-width="1"/>
<rect x="158.30" y="9.50" width="31.20" height="10.4" fill="#fff" stroke="rgba(30,30,30,0.85)" stroke-width="0.9"/>
<text opacity="0.99" x="173.90" y="13.90" font-size="4.2" text-anchor="middle" fill="#000">8/16/2014</text>
<text opacity="0.99" x="173.90" y="18.40" font-size="4.2" text-anchor="middle" fill="#000">Summer</text>
<text opacity="0.99" x="164.90" y="5.30" font-size="3.9" font-style="italic" text-anchor="middle" fill="#666">-4°48'</text>
<text opacity="0.99" x="181.80" y="5.30" font-size="3.9" font-style="italic" text-anchor="middle" fill="#666">-4°47'30&quot;</text>
<text opacity="0.99" x="198.70" y="5.30" font-size="3.9" font-style="italic" text-anchor="middle" fill="#666">-4°47'</text>
<text opacity="0.99" x="215.60" y="5.30" font-size="3.9" font-style="italic" text-anchor="middle" fill="#666">-4°46'30&quot;</text>
<text opacity="0.99" x="232.50" y="5.30" font-size="3.9" font-style="italic" text-anchor="middle" fill="#666">-4°46'</text>
<text opacity="0.99" x="249.40" y="5.30" font-size="3.9" font-style="italic" text-anchor="middle" fill="#666">-4°45'30&quot;</text>
<text opacity="0.99" x="266.30" y="5.30" font-size="3.9" font-style="italic" text-anchor="middle" fill="#666">-4°45'</text>
<text opacity="0.99" x="283.20" y="5.30" font-size="3.9" font-style="italic" text-anchor="middle" fill="#666">-4°44'30&quot;</text>
<line x1="163.30" y1="138.20" x2="287.70" y2="138.20" stroke="#cfcfcf" stroke-width="0.9"/>
<line x1="163.30" y1="137.00" x2="163.30" y2="138.70" stroke="#9a9a9a" stroke-width="0.6"/>
<line x1="225.60" y1="137.00" x2="225.60" y2="138.70" stroke="#9a9a9a" stroke-width="0.6"/>
<line x1="287.70" y1="137.00" x2="287.70" y2="138.70" stroke="#9a9a9a" stroke-width="0.6"/>
<text opacity="0.99" x="163.30" y="135.50" font-size="3.4" text-anchor="middle" fill="#777">0</text>
<text opacity="0.99" x="225.60" y="135.50" font-size="3.4" text-anchor="middle" fill="#777">2.5</text>
<text opacity="0.99" x="287.10" y="135.50" font-size="3.1" text-anchor="start" fill="#777">5 Km</text>
<rect x="304.30" y="6.90" width="145.80" height="124.20" fill="none" stroke="#d9d9d9" stroke-width="0.9"/>
<g clip-path="url(#cp2)"><g filter="url(#bl)">
<rect x="292.84" y="-4.50" width="7.63" height="7.60" fill="rgb(242,119,38)"/>
<rect x="299.87" y="-4.50" width="7.63" height="7.60" fill="rgb(242,119,38)"/>
<rect x="306.90" y="-4.50" width="7.63" height="7.60" fill="rgb(242,119,38)"/>
<rect x="313.93" y="-4.50" width="7.63" height="7.60" fill="rgb(242,119,38)"/>
<rect x="320.96" y="-4.50" width="7.63" height="7.60" fill="rgb(242,119,38)"/>
<rect x="327.99" y="-4.50" width="7.63" height="7.60" fill="rgb(242,119,38)"/>
<rect x="335.02" y="-4.50" width="7.63" height="7.60" fill="rgb(242,119,38)"/>
<rect x="342.05" y="-4.50" width="7.63" height="7.60" fill="rgb(249,150,54)"/>
<rect x="349.08" y="-4.50" width="7.63" height="7.60" fill="rgb(242,119,38)"/>
<rect x="356.11" y="-4.50" width="7.63" height="7.60" fill="rgb(249,150,54)"/>
<rect x="363.14" y="-4.50" width="7.63" height="7.60" fill="rgb(249,150,54)"/>
<rect x="370.17" y="-4.50" width="7.63" height="7.60" fill="rgb(249,150,54)"/>
<rect x="377.20" y="-4.50" width="7.63" height="7.60" fill="rgb(242,119,38)"/>
<rect x="384.23" y="-4.50" width="7.63" height="7.60" fill="rgb(249,150,54)"/>
<rect x="391.26" y="-4.50" width="7.63" height="7.60" fill="rgb(249,150,54)"/>
<rect x="398.29" y="-4.50" width="7.63" height="7.60" fill="rgb(249,150,54)"/>
<rect x="405.32" y="-4.50" width="7.63" height="7.60" fill="rgb(249,150,54)"/>
<rect x="412.35" y="-4.50" width="7.63" height="7.60" fill="rgb(249,150,54)"/>
<rect x="419.38" y="-4.50" width="7.63" height="7.60" fill="rgb(249,150,54)"/>
<rect x="426.41" y="-4.50" width="7.63" height="7.60" fill="rgb(249,150,54)"/>
<rect x="433.44" y="-4.50" width="7.63" height="7.60" fill="rgb(252,181,75)"/>
<rect x="440.47" y="-4.50" width="7.63" height="7.60" fill="rgb(252,181,75)"/>
<rect x="447.50" y="-4.50" width="7.63" height="7.60" fill="rgb(252,181,75)"/>
<rect x="454.53" y="-4.50" width="7.63" height="7.60" fill="rgb(252,181,75)"/>
<rect x="292.84" y="2.50" width="7.63" height="7.60" fill="rgb(242,119,38)"/>
<rect x="299.87" y="2.50" width="7.63" height="7.60" fill="rgb(242,119,38)"/>
<rect x="306.90" y="2.50" width="7.63" height="7.60" fill="rgb(242,119,38)"/>
<rect x="313.93" y="2.50" width="7.63" height="7.60" fill="rgb(242,119,38)"/>
<rect x="320.96" y="2.50" width="7.63" height="7.60" fill="rgb(242,119,38)"/>
<rect x="327.99" y="2.50" width="7.63" height="7.60" fill="rgb(242,119,38)"/>
<rect x="335.02" y="2.50" width="7.63" height="7.60" fill="rgb(242,119,38)"/>
<rect x="342.05" y="2.50" width="7.63" height="7.60" fill="rgb(249,150,54)"/>
<rect x="349.08" y="2.50" width="7.63" height="7.60" fill="rgb(242,119,38)"/>
<rect x="356.11" y="2.50" width="7.63" height="7.60" fill="rgb(249,150,54)"/>
<rect x="363.14" y="2.50" width="7.63" height="7.60" fill="rgb(249,150,54)"/>
<rect x="370.17" y="2.50" width="7.63" height="7.60" fill="rgb(249,150,54)"/>
<rect x="377.20" y="2.50" width="7.63" height="7.60" fill="rgb(242,119,38)"/>
<rect x="384.23" y="2.50" width="7.63" height="7.60" fill="rgb(249,150,54)"/>
<rect x="391.26" y="2.50" width="7.63" height="7.60" fill="rgb(249,150,54)"/>
<rect x="398.29" y="2.50" width="7.63" height="7.60" fill="rgb(249,150,54)"/>
<rect x="405.32" y="2.50" width="7.63" height="7.60" fill="rgb(249,150,54)"/>
<rect x="412.35" y="2.50" width="7.63" height="7.60" fill="rgb(249,150,54)"/>
<rect x="419.38" y="2.50" width="7.63" height="7.60" fill="rgb(249,150,54)"/>
<rect x="426.41" y="2.50" width="7.63" height="7.60" fill="rgb(249,150,54)"/>
<rect x="433.44" y="2.50" width="7.63" height="7.60" fill="rgb(252,181,75)"/>
<rect x="440.47" y="2.50" width="7.63" height="7.60" fill="rgb(252,181,75)"/>
<rect x="447.50" y="2.50" width="7.63" height="7.60" fill="rgb(252,181,75)"/>
<rect x="454.53" y="2.50" width="7.63" height="7.60" fill="rgb(252,181,75)"/>
<rect x="292.84" y="9.50" width="7.63" height="7.60" fill="rgb(242,119,38)"/>
<rect x="299.87" y="9.50" width="7.63" height="7.60" fill="rgb(242,119,38)"/>
<rect x="306.90" y="9.50" width="7.63" height="7.60" fill="rgb(242,119,38)"/>
<rect x="313.93" y="9.50" width="7.63" height="7.60" fill="rgb(242,119,38)"/>
<rect x="320.96" y="9.50" width="7.63" height="7.60" fill="rgb(242,119,38)"/>
<rect x="327.99" y="9.50" width="7.63" height="7.60" fill="rgb(242,119,38)"/>
<rect x="335.02" y="9.50" width="7.63" height="7.60" fill="rgb(242,119,38)"/>
<rect x="342.05" y="9.50" width="7.63" height="7.60" fill="rgb(249,150,54)"/>
<rect x="349.08" y="9.50" width="7.63" height="7.60" fill="rgb(242,119,38)"/>
<rect x="356.11" y="9.50" width="7.63" height="7.60" fill="rgb(249,150,54)"/>
<rect x="363.14" y="9.50" width="7.63" height="7.60" fill="rgb(249,150,54)"/>
<rect x="370.17" y="9.50" width="7.63" height="7.60" fill="rgb(249,150,54)"/>
<rect x="377.20" y="9.50" width="7.63" height="7.60" fill="rgb(242,119,38)"/>
<rect x="384.23" y="9.50" width="7.63" height="7.60" fill="rgb(249,150,54)"/>
<rect x="391.26" y="9.50" width="7.63" height="7.60" fill="rgb(249,150,54)"/>
<rect x="398.29" y="9.50" width="7.63" height="7.60" fill="rgb(249,150,54)"/>
<rect x="405.32" y="9.50" width="7.63" height="7.60" fill="rgb(249,150,54)"/>
<rect x="412.35" y="9.50" width="7.63" height="7.60" fill="rgb(249,150,54)"/>
<rect x="419.38" y="9.50" width="7.63" height="7.60" fill="rgb(249,150,54)"/>
<rect x="426.41" y="9.50" width="7.63" height="7.60" fill="rgb(249,150,54)"/>
<rect x="433.44" y="9.50" width="7.63" height="7.60" fill="rgb(252,181,75)"/>
<rect x="440.47" y="9.50" width="7.63" height="7.60" fill="rgb(252,181,75)"/>
<rect x="447.50" y="9.50" width="7.63" height="7.60" fill="rgb(252,181,75)"/>
<rect x="454.53" y="9.50" width="7.63" height="7.60" fill="rgb(252,181,75)"/>
<rect x="292.84" y="16.50" width="7.63" height="7.60" fill="rgb(249,150,54)"/>
<rect x="299.87" y="16.50" width="7.63" height="7.60" fill="rgb(249,150,54)"/>
<rect x="306.90" y="16.50" width="7.63" height="7.60" fill="rgb(249,150,54)"/>
<rect x="313.93" y="16.50" width="7.63" height="7.60" fill="rgb(249,150,54)"/>
<rect x="320.96" y="16.50" width="7.63" height="7.60" fill="rgb(249,150,54)"/>
<rect x="327.99" y="16.50" width="7.63" height="7.60" fill="rgb(249,150,54)"/>
<rect x="335.02" y="16.50" width="7.63" height="7.60" fill="rgb(249,150,54)"/>
<rect x="342.05" y="16.50" width="7.63" height="7.60" fill="rgb(249,150,54)"/>
<rect x="349.08" y="16.50" width="7.63" height="7.60" fill="rgb(242,119,38)"/>
<rect x="356.11" y="16.50" width="7.63" height="7.60" fill="rgb(249,150,54)"/>
<rect x="363.14" y="16.50" width="7.63" height="7.60" fill="rgb(249,150,54)"/>
<rect x="370.17" y="16.50" width="7.63" height="7.60" fill="rgb(242,119,38)"/>
<rect x="377.20" y="16.50" width="7.63" height="7.60" fill="rgb(242,119,38)"/>
<rect x="384.23" y="16.50" width="7.63" height="7.60" fill="rgb(249,150,54)"/>
<rect x="391.26" y="16.50" width="7.63" height="7.60" fill="rgb(249,150,54)"/>
<rect x="398.29" y="16.50" width="7.63" height="7.60" fill="rgb(249,150,54)"/>
<rect x="405.32" y="16.50" width="7.63" height="7.60" fill="rgb(242,119,38)"/>
<rect x="412.35" y="16.50" width="7.63" height="7.60" fill="rgb(242,119,38)"/>
<rect x="419.38" y="16.50" width="7.63" height="7.60" fill="rgb(249,150,54)"/>
<rect x="426.41" y="16.50" width="7.63" height="7.60" fill="rgb(249,150,54)"/>
<rect x="433.44" y="16.50" width="7.63" height="7.60" fill="rgb(242,119,38)"/>
<rect x="440.47" y="16.50" width="7.63" height="7.60" fill="rgb(249,150,54)"/>
<rect x="447.50" y="16.50" width="7.63" height="7.60" fill="rgb(249,150,54)"/>
<rect x="454.53" y="16.50" width="7.63" height="7.60" fill="rgb(249,150,54)"/>
<rect x="292.84" y="23.50" width="7.63" height="7.60" fill="rgb(242,119,38)"/>
<rect x="299.87" y="23.50" width="7.63" height="7.60" fill="rgb(242,119,38)"/>
<rect x="306.90" y="23.50" width="7.63" height="7.60" fill="rgb(242,119,38)"/>
<rect x="313.93" y="23.50" width="7.63" height="7.60" fill="rgb(242,119,38)"/>
<rect x="320.96" y="23.50" width="7.63" height="7.60" fill="rgb(249,150,54)"/>
<rect x="327.99" y="23.50" width="7.63" height="7.60" fill="rgb(249,150,54)"/>
<rect x="335.02" y="23.50" width="7.63" height="7.60" fill="rgb(249,150,54)"/>
<rect x="342.05" y="23.50" width="7.63" height="7.60" fill="rgb(249,150,54)"/>
<rect x="349.08" y="23.50" width="7.63" height="7.60" fill="rgb(249,150,54)"/>
<rect x="356.11" y="23.50" width="7.63" height="7.60" fill="rgb(252,181,75)"/>
<rect x="363.14" y="23.50" width="7.63" height="7.60" fill="rgb(249,150,54)"/>
<rect x="370.17" y="23.50" width="7.63" height="7.60" fill="rgb(242,119,38)"/>
<rect x="377.20" y="23.50" width="7.63" height="7.60" fill="rgb(242,119,38)"/>
<rect x="384.23" y="23.50" width="7.63" height="7.60" fill="rgb(249,150,54)"/>
<rect x="391.26" y="23.50" width="7.63" height="7.60" fill="rgb(249,150,54)"/>
<rect x="398.29" y="23.50" width="7.63" height="7.60" fill="rgb(249,150,54)"/>
<rect x="405.32" y="23.50" width="7.63" height="7.60" fill="rgb(242,119,38)"/>
<rect x="412.35" y="23.50" width="7.63" height="7.60" fill="rgb(249,150,54)"/>
<rect x="419.38" y="23.50" width="7.63" height="7.60" fill="rgb(249,150,54)"/>
<rect x="426.41" y="23.50" width="7.63" height="7.60" fill="rgb(249,150,54)"/>
<rect x="433.44" y="23.50" width="7.63" height="7.60" fill="rgb(242,119,38)"/>
<rect x="440.47" y="23.50" width="7.63" height="7.60" fill="rgb(249,150,54)"/>
<rect x="447.50" y="23.50" width="7.63" height="7.60" fill="rgb(249,150,54)"/>
<rect x="454.53" y="23.50" width="7.63" height="7.60" fill="rgb(249,150,54)"/>
<rect x="292.84" y="30.50" width="7.63" height="7.60" fill="rgb(242,119,38)"/>
<rect x="299.87" y="30.50" width="7.63" height="7.60" fill="rgb(242,119,38)"/>
<rect x="306.90" y="30.50" width="7.63" height="7.60" fill="rgb(242,119,38)"/>
<rect x="313.93" y="30.50" width="7.63" height="7.60" fill="rgb(249,150,54)"/>
<rect x="320.96" y="30.50" width="7.63" height="7.60" fill="rgb(249,150,54)"/>
<rect x="327.99" y="30.50" width="7.63" height="7.60" fill="rgb(249,150,54)"/>
<rect x="335.02" y="30.50" width="7.63" height="7.60" fill="rgb(249,150,54)"/>
<rect x="342.05" y="30.50" width="7.63" height="7.60" fill="rgb(249,150,54)"/>
<rect x="349.08" y="30.50" width="7.63" height="7.60" fill="rgb(252,181,75)"/>
<rect x="356.11" y="30.50" width="7.63" height="7.60" fill="rgb(249,150,54)"/>
<rect x="363.14" y="30.50" width="7.63" height="7.60" fill="rgb(249,150,54)"/>
<rect x="370.17" y="30.50" width="7.63" height="7.60" fill="rgb(249,150,54)"/>
<rect x="377.20" y="30.50" width="7.63" height="7.60" fill="rgb(249,150,54)"/>
<rect x="384.23" y="30.50" width="7.63" height="7.60" fill="rgb(249,150,54)"/>
<rect x="391.26" y="30.50" width="7.63" height="7.60" fill="rgb(249,150,54)"/>
<rect x="398.29" y="30.50" width="7.63" height="7.60" fill="rgb(249,150,54)"/>
<rect x="405.32" y="30.50" width="7.63" height="7.60" fill="rgb(249,150,54)"/>
<rect x="412.35" y="30.50" width="7.63" height="7.60" fill="rgb(249,150,54)"/>
<rect x="419.38" y="30.50" width="7.63" height="7.60" fill="rgb(249,150,54)"/>
<rect x="426.41" y="30.50" width="7.63" height="7.60" fill="rgb(249,150,54)"/>
<rect x="433.44" y="30.50" width="7.63" height="7.60" fill="rgb(242,119,38)"/>
<rect x="440.47" y="30.50" width="7.63" height="7.60" fill="rgb(249,150,54)"/>
<rect x="447.50" y="30.50" width="7.63" height="7.60" fill="rgb(249,150,54)"/>
<rect x="454.53" y="30.50" width="7.63" height="7.60" fill="rgb(249,150,54)"/>
<rect x="292.84" y="37.50" width="7.63" height="7.60" fill="rgb(249,150,54)"/>
<rect x="299.87" y="37.50" width="7.63" height="7.60" fill="rgb(249,150,54)"/>
<rect x="306.90" y="37.50" width="7.63" height="7.60" fill="rgb(249,150,54)"/>
<rect x="313.93" y="37.50" width="7.63" height="7.60" fill="rgb(249,150,54)"/>
<rect x="320.96" y="37.50" width="7.63" height="7.60" fill="rgb(249,150,54)"/>
<rect x="327.99" y="37.50" width="7.63" height="7.60" fill="rgb(249,150,54)"/>
<rect x="335.02" y="37.50" width="7.63" height="7.60" fill="rgb(249,150,54)"/>
<rect x="342.05" y="37.50" width="7.63" height="7.60" fill="rgb(252,181,75)"/>
<rect x="349.08" y="37.50" width="7.63" height="7.60" fill="rgb(249,150,54)"/>
<rect x="356.11" y="37.50" width="7.63" height="7.60" fill="rgb(242,119,38)"/>
<rect x="363.14" y="37.50" width="7.63" height="7.60" fill="rgb(249,150,54)"/>
<rect x="370.17" y="37.50" width="7.63" height="7.60" fill="rgb(249,150,54)"/>
<rect x="377.20" y="37.50" width="7.63" height="7.60" fill="rgb(249,150,54)"/>
<rect x="384.23" y="37.50" width="7.63" height="7.60" fill="rgb(249,150,54)"/>
<rect x="391.26" y="37.50" width="7.63" height="7.60" fill="rgb(249,150,54)"/>
<rect x="398.29" y="37.50" width="7.63" height="7.60" fill="rgb(249,150,54)"/>
<rect x="405.32" y="37.50" width="7.63" height="7.60" fill="rgb(249,150,54)"/>
<rect x="412.35" y="37.50" width="7.63" height="7.60" fill="rgb(249,150,54)"/>
<rect x="419.38" y="37.50" width="7.63" height="7.60" fill="rgb(249,150,54)"/>
<rect x="426.41" y="37.50" width="7.63" height="7.60" fill="rgb(249,150,54)"/>
<rect x="433.44" y="37.50" width="7.63" height="7.60" fill="rgb(249,150,54)"/>
<rect x="440.47" y="37.50" width="7.63" height="7.60" fill="rgb(249,150,54)"/>
<rect x="447.50" y="37.50" width="7.63" height="7.60" fill="rgb(249,150,54)"/>
<rect x="454.53" y="37.50" width="7.63" height="7.60" fill="rgb(249,150,54)"/>
<rect x="292.84" y="44.50" width="7.63" height="7.60" fill="rgb(249,150,54)"/>
<rect x="299.87" y="44.50" width="7.63" height="7.60" fill="rgb(249,150,54)"/>
<rect x="306.90" y="44.50" width="7.63" height="7.60" fill="rgb(249,150,54)"/>
<rect x="313.93" y="44.50" width="7.63" height="7.60" fill="rgb(249,150,54)"/>
<rect x="320.96" y="44.50" width="7.63" height="7.60" fill="rgb(242,119,38)"/>
<rect x="327.99" y="44.50" width="7.63" height="7.60" fill="rgb(249,150,54)"/>
<rect x="335.02" y="44.50" width="7.63" height="7.60" fill="rgb(249,150,54)"/>
<rect x="342.05" y="44.50" width="7.63" height="7.60" fill="rgb(252,181,75)"/>
<rect x="349.08" y="44.50" width="7.63" height="7.60" fill="rgb(249,150,54)"/>
<rect x="356.11" y="44.50" width="7.63" height="7.60" fill="rgb(242,119,38)"/>
<rect x="363.14" y="44.50" width="7.63" height="7.60" fill="rgb(242,119,38)"/>
<rect x="370.17" y="44.50" width="7.63" height="7.60" fill="rgb(249,150,54)"/>
<rect x="377.20" y="44.50" width="7.63" height="7.60" fill="rgb(249,150,54)"/>
<rect x="384.23" y="44.50" width="7.63" height="7.60" fill="rgb(249,150,54)"/>
<rect x="391.26" y="44.50" width="7.63" height="7.60" fill="rgb(249,150,54)"/>
<rect x="398.29" y="44.50" width="7.63" height="7.60" fill="rgb(249,150,54)"/>
<rect x="405.32" y="44.50" width="7.63" height="7.60" fill="rgb(249,150,54)"/>
<rect x="412.35" y="44.50" width="7.63" height="7.60" fill="rgb(249,150,54)"/>
<rect x="419.38" y="44.50" width="7.63" height="7.60" fill="rgb(249,150,54)"/>
<rect x="426.41" y="44.50" width="7.63" height="7.60" fill="rgb(249,150,54)"/>
<rect x="433.44" y="44.50" width="7.63" height="7.60" fill="rgb(249,150,54)"/>
<rect x="440.47" y="44.50" width="7.63" height="7.60" fill="rgb(252,181,75)"/>
<rect x="447.50" y="44.50" width="7.63" height="7.60" fill="rgb(252,181,75)"/>
<rect x="454.53" y="44.50" width="7.63" height="7.60" fill="rgb(252,181,75)"/>
<rect x="292.84" y="51.50" width="7.63" height="7.60" fill="rgb(249,150,54)"/>
<rect x="299.87" y="51.50" width="7.63" height="7.60" fill="rgb(249,150,54)"/>
<rect x="306.90" y="51.50" width="7.63" height="7.60" fill="rgb(249,150,54)"/>
<rect x="313.93" y="51.50" width="7.63" height="7.60" fill="rgb(242,119,38)"/>
<rect x="320.96" y="51.50" width="7.63" height="7.60" fill="rgb(242,119,38)"/>
<rect x="327.99" y="51.50" width="7.63" height="7.60" fill="rgb(249,150,54)"/>
<rect x="335.02" y="51.50" width="7.63" height="7.60" fill="rgb(249,150,54)"/>
<rect x="342.05" y="51.50" width="7.63" height="7.60" fill="rgb(249,150,54)"/>
<rect x="349.08" y="51.50" width="7.63" height="7.60" fill="rgb(242,119,38)"/>
<rect x="356.11" y="51.50" width="7.63" height="7.60" fill="rgb(242,119,38)"/>
<rect x="363.14" y="51.50" width="7.63" height="7.60" fill="rgb(242,119,38)"/>
<rect x="370.17" y="51.50" width="7.63" height="7.60" fill="rgb(249,150,54)"/>
<rect x="377.20" y="51.50" width="7.63" height="7.60" fill="rgb(249,150,54)"/>
<rect x="384.23" y="51.50" width="7.63" height="7.60" fill="rgb(249,150,54)"/>
<rect x="391.26" y="51.50" width="7.63" height="7.60" fill="rgb(249,150,54)"/>
<rect x="398.29" y="51.50" width="7.63" height="7.60" fill="rgb(252,181,75)"/>
<rect x="405.32" y="51.50" width="7.63" height="7.60" fill="rgb(252,181,75)"/>
<rect x="412.35" y="51.50" width="7.63" height="7.60" fill="rgb(249,150,54)"/>
<rect x="419.38" y="51.50" width="7.63" height="7.60" fill="rgb(242,119,38)"/>
<rect x="426.41" y="51.50" width="7.63" height="7.60" fill="rgb(249,150,54)"/>
<rect x="433.44" y="51.50" width="7.63" height="7.60" fill="rgb(252,181,75)"/>
<rect x="440.47" y="51.50" width="7.63" height="7.60" fill="rgb(249,150,54)"/>
<rect x="447.50" y="51.50" width="7.63" height="7.60" fill="rgb(249,150,54)"/>
<rect x="454.53" y="51.50" width="7.63" height="7.60" fill="rgb(249,150,54)"/>
<rect x="292.84" y="58.50" width="7.63" height="7.60" fill="rgb(252,181,75)"/>
<rect x="299.87" y="58.50" width="7.63" height="7.60" fill="rgb(252,181,75)"/>
<rect x="306.90" y="58.50" width="7.63" height="7.60" fill="rgb(252,181,75)"/>
<rect x="313.93" y="58.50" width="7.63" height="7.60" fill="rgb(242,119,38)"/>
<rect x="320.96" y="58.50" width="7.63" height="7.60" fill="rgb(242,119,38)"/>
<rect x="327.99" y="58.50" width="7.63" height="7.60" fill="rgb(249,150,54)"/>
<rect x="335.02" y="58.50" width="7.63" height="7.60" fill="rgb(249,150,54)"/>
<rect x="342.05" y="58.50" width="7.63" height="7.60" fill="rgb(249,150,54)"/>
<rect x="349.08" y="58.50" width="7.63" height="7.60" fill="rgb(249,150,54)"/>
<rect x="356.11" y="58.50" width="7.63" height="7.60" fill="rgb(242,119,38)"/>
<rect x="363.14" y="58.50" width="7.63" height="7.60" fill="rgb(249,150,54)"/>
<rect x="370.17" y="58.50" width="7.63" height="7.60" fill="rgb(249,150,54)"/>
<rect x="377.20" y="58.50" width="7.63" height="7.60" fill="rgb(249,150,54)"/>
<rect x="384.23" y="58.50" width="7.63" height="7.60" fill="rgb(249,150,54)"/>
<rect x="391.26" y="58.50" width="7.63" height="7.60" fill="rgb(252,181,75)"/>
<rect x="398.29" y="58.50" width="7.63" height="7.60" fill="rgb(252,181,75)"/>
<rect x="405.32" y="58.50" width="7.63" height="7.60" fill="rgb(252,181,75)"/>
<rect x="412.35" y="58.50" width="7.63" height="7.60" fill="rgb(242,119,38)"/>
<rect x="419.38" y="58.50" width="7.63" height="7.60" fill="rgb(242,119,38)"/>
<rect x="426.41" y="58.50" width="7.63" height="7.60" fill="rgb(252,181,75)"/>
<rect x="433.44" y="58.50" width="7.63" height="7.60" fill="rgb(249,150,54)"/>
<rect x="440.47" y="58.50" width="7.63" height="7.60" fill="rgb(249,150,54)"/>
<rect x="447.50" y="58.50" width="7.63" height="7.60" fill="rgb(249,150,54)"/>
<rect x="454.53" y="58.50" width="7.63" height="7.60" fill="rgb(249,150,54)"/>
<rect x="292.84" y="65.50" width="7.63" height="7.60" fill="rgb(252,181,75)"/>
<rect x="299.87" y="65.50" width="7.63" height="7.60" fill="rgb(252,181,75)"/>
<rect x="306.90" y="65.50" width="7.63" height="7.60" fill="rgb(252,181,75)"/>
<rect x="313.93" y="65.50" width="7.63" height="7.60" fill="rgb(249,150,54)"/>
<rect x="320.96" y="65.50" width="7.63" height="7.60" fill="rgb(242,119,38)"/>
<rect x="327.99" y="65.50" width="7.63" height="7.60" fill="rgb(242,119,38)"/>
<rect x="335.02" y="65.50" width="7.63" height="7.60" fill="rgb(249,150,54)"/>
<rect x="342.05" y="65.50" width="7.63" height="7.60" fill="rgb(249,150,54)"/>
<rect x="349.08" y="65.50" width="7.63" height="7.60" fill="rgb(249,150,54)"/>
<rect x="356.11" y="65.50" width="7.63" height="7.60" fill="rgb(249,150,54)"/>
<rect x="363.14" y="65.50" width="7.63" height="7.60" fill="rgb(249,150,54)"/>
<rect x="370.17" y="65.50" width="7.63" height="7.60" fill="rgb(249,150,54)"/>
<rect x="377.20" y="65.50" width="7.63" height="7.60" fill="rgb(249,150,54)"/>
<rect x="384.23" y="65.50" width="7.63" height="7.60" fill="rgb(252,181,75)"/>
<rect x="391.26" y="65.50" width="7.63" height="7.60" fill="rgb(252,181,75)"/>
<rect x="398.29" y="65.50" width="7.63" height="7.60" fill="rgb(252,181,75)"/>
<rect x="405.32" y="65.50" width="7.63" height="7.60" fill="rgb(252,181,75)"/>
<rect x="412.35" y="65.50" width="7.63" height="7.60" fill="rgb(252,181,75)"/>
<rect x="419.38" y="65.50" width="7.63" height="7.60" fill="rgb(249,150,54)"/>
<rect x="426.41" y="65.50" width="7.63" height="7.60" fill="rgb(252,181,75)"/>
<rect x="433.44" y="65.50" width="7.63" height="7.60" fill="rgb(252,181,75)"/>
<rect x="440.47" y="65.50" width="7.63" height="7.60" fill="rgb(249,150,54)"/>
<rect x="447.50" y="65.50" width="7.63" height="7.60" fill="rgb(249,150,54)"/>
<rect x="454.53" y="65.50" width="7.63" height="7.60" fill="rgb(249,150,54)"/>
<rect x="292.84" y="72.50" width="7.63" height="7.60" fill="rgb(249,150,54)"/>
<rect x="299.87" y="72.50" width="7.63" height="7.60" fill="rgb(249,150,54)"/>
<rect x="306.90" y="72.50" width="7.63" height="7.60" fill="rgb(249,150,54)"/>
<rect x="313.93" y="72.50" width="7.63" height="7.60" fill="rgb(242,119,38)"/>
<rect x="320.96" y="72.50" width="7.63" height="7.60" fill="rgb(242,119,38)"/>
<rect x="327.99" y="72.50" width="7.63" height="7.60" fill="rgb(242,119,38)"/>
<rect x="335.02" y="72.50" width="7.63" height="7.60" fill="rgb(249,150,54)"/>
<rect x="342.05" y="72.50" width="7.63" height="7.60" fill="rgb(249,150,54)"/>
<rect x="349.08" y="72.50" width="7.63" height="7.60" fill="rgb(242,119,38)"/>
<rect x="356.11" y="72.50" width="7.63" height="7.60" fill="rgb(249,150,54)"/>
<rect x="363.14" y="72.50" width="7.63" height="7.60" fill="rgb(249,150,54)"/>
<rect x="370.17" y="72.50" width="7.63" height="7.60" fill="rgb(242,119,38)"/>
<rect x="377.20" y="72.50" width="7.63" height="7.60" fill="rgb(249,150,54)"/>
<rect x="384.23" y="72.50" width="7.63" height="7.60" fill="rgb(249,150,54)"/>
<rect x="391.26" y="72.50" width="7.63" height="7.60" fill="rgb(249,150,54)"/>
<rect x="398.29" y="72.50" width="7.63" height="7.60" fill="rgb(249,150,54)"/>
<rect x="405.32" y="72.50" width="7.63" height="7.60" fill="rgb(249,150,54)"/>
<rect x="412.35" y="72.50" width="7.63" height="7.60" fill="rgb(252,181,75)"/>
<rect x="419.38" y="72.50" width="7.63" height="7.60" fill="rgb(252,181,75)"/>
<rect x="426.41" y="72.50" width="7.63" height="7.60" fill="rgb(252,181,75)"/>
<rect x="433.44" y="72.50" width="7.63" height="7.60" fill="rgb(249,150,54)"/>
<rect x="440.47" y="72.50" width="7.63" height="7.60" fill="rgb(252,181,75)"/>
<rect x="447.50" y="72.50" width="7.63" height="7.60" fill="rgb(252,181,75)"/>
<rect x="454.53" y="72.50" width="7.63" height="7.60" fill="rgb(252,181,75)"/>
<rect x="292.84" y="79.50" width="7.63" height="7.60" fill="rgb(249,150,54)"/>
<rect x="299.87" y="79.50" width="7.63" height="7.60" fill="rgb(249,150,54)"/>
<rect x="306.90" y="79.50" width="7.63" height="7.60" fill="rgb(249,150,54)"/>
<rect x="313.93" y="79.50" width="7.63" height="7.60" fill="rgb(242,119,38)"/>
<rect x="320.96" y="79.50" width="7.63" height="7.60" fill="rgb(249,150,54)"/>
<rect x="327.99" y="79.50" width="7.63" height="7.60" fill="rgb(249,150,54)"/>
<rect x="335.02" y="79.50" width="7.63" height="7.60" fill="rgb(252,181,75)"/>
<rect x="342.05" y="79.50" width="7.63" height="7.60" fill="rgb(249,150,54)"/>
<rect x="349.08" y="79.50" width="7.63" height="7.60" fill="rgb(249,150,54)"/>
<rect x="356.11" y="79.50" width="7.63" height="7.60" fill="rgb(249,150,54)"/>
<rect x="363.14" y="79.50" width="7.63" height="7.60" fill="rgb(249,150,54)"/>
<rect x="370.17" y="79.50" width="7.63" height="7.60" fill="rgb(242,119,38)"/>
<rect x="377.20" y="79.50" width="7.63" height="7.60" fill="rgb(249,150,54)"/>
<rect x="384.23" y="79.50" width="7.63" height="7.60" fill="rgb(252,181,75)"/>
<rect x="391.26" y="79.50" width="7.63" height="7.60" fill="rgb(249,150,54)"/>
<rect x="398.29" y="79.50" width="7.63" height="7.60" fill="rgb(249,150,54)"/>
<rect x="405.32" y="79.50" width="7.63" height="7.60" fill="rgb(249,150,54)"/>
<rect x="412.35" y="79.50" width="7.63" height="7.60" fill="rgb(249,150,54)"/>
<rect x="419.38" y="79.50" width="7.63" height="7.60" fill="rgb(242,119,38)"/>
<rect x="426.41" y="79.50" width="7.63" height="7.60" fill="rgb(242,119,38)"/>
<rect x="433.44" y="79.50" width="7.63" height="7.60" fill="rgb(249,150,54)"/>
<rect x="440.47" y="79.50" width="7.63" height="7.60" fill="rgb(252,181,75)"/>
<rect x="447.50" y="79.50" width="7.63" height="7.60" fill="rgb(252,181,75)"/>
<rect x="454.53" y="79.50" width="7.63" height="7.60" fill="rgb(252,181,75)"/>
<rect x="292.84" y="86.50" width="7.63" height="7.60" fill="rgb(249,150,54)"/>
<rect x="299.87" y="86.50" width="7.63" height="7.60" fill="rgb(249,150,54)"/>
<rect x="306.90" y="86.50" width="7.63" height="7.60" fill="rgb(249,150,54)"/>
<rect x="313.93" y="86.50" width="7.63" height="7.60" fill="rgb(242,119,38)"/>
<rect x="320.96" y="86.50" width="7.63" height="7.60" fill="rgb(249,150,54)"/>
<rect x="327.99" y="86.50" width="7.63" height="7.60" fill="rgb(252,181,75)"/>
<rect x="335.02" y="86.50" width="7.63" height="7.60" fill="rgb(249,150,54)"/>
<rect x="342.05" y="86.50" width="7.63" height="7.60" fill="rgb(249,150,54)"/>
<rect x="349.08" y="86.50" width="7.63" height="7.60" fill="rgb(249,150,54)"/>
<rect x="356.11" y="86.50" width="7.63" height="7.60" fill="rgb(249,150,54)"/>
<rect x="363.14" y="86.50" width="7.63" height="7.60" fill="rgb(252,181,75)"/>
<rect x="370.17" y="86.50" width="7.63" height="7.60" fill="rgb(249,150,54)"/>
<rect x="377.20" y="86.50" width="7.63" height="7.60" fill="rgb(249,150,54)"/>
<rect x="384.23" y="86.50" width="7.63" height="7.60" fill="rgb(252,181,75)"/>
<rect x="391.26" y="86.50" width="7.63" height="7.60" fill="rgb(249,150,54)"/>
<rect x="398.29" y="86.50" width="7.63" height="7.60" fill="rgb(249,150,54)"/>
<rect x="405.32" y="86.50" width="7.63" height="7.60" fill="rgb(242,119,38)"/>
<rect x="412.35" y="86.50" width="7.63" height="7.60" fill="rgb(242,119,38)"/>
<rect x="419.38" y="86.50" width="7.63" height="7.60" fill="rgb(249,150,54)"/>
<rect x="426.41" y="86.50" width="7.63" height="7.60" fill="rgb(242,119,38)"/>
<rect x="433.44" y="86.50" width="7.63" height="7.60" fill="rgb(249,150,54)"/>
<rect x="440.47" y="86.50" width="7.63" height="7.60" fill="rgb(252,181,75)"/>
<rect x="447.50" y="86.50" width="7.63" height="7.60" fill="rgb(252,181,75)"/>
<rect x="454.53" y="86.50" width="7.63" height="7.60" fill="rgb(252,181,75)"/>
<rect x="292.84" y="93.50" width="7.63" height="7.60" fill="rgb(242,119,38)"/>
<rect x="299.87" y="93.50" width="7.63" height="7.60" fill="rgb(242,119,38)"/>
<rect x="306.90" y="93.50" width="7.63" height="7.60" fill="rgb(242,119,38)"/>
<rect x="313.93" y="93.50" width="7.63" height="7.60" fill="rgb(242,119,38)"/>
<rect x="320.96" y="93.50" width="7.63" height="7.60" fill="rgb(249,150,54)"/>
<rect x="327.99" y="93.50" width="7.63" height="7.60" fill="rgb(252,181,75)"/>
<rect x="335.02" y="93.50" width="7.63" height="7.60" fill="rgb(249,150,54)"/>
<rect x="342.05" y="93.50" width="7.63" height="7.60" fill="rgb(249,150,54)"/>
<rect x="349.08" y="93.50" width="7.63" height="7.60" fill="rgb(242,119,38)"/>
<rect x="356.11" y="93.50" width="7.63" height="7.60" fill="rgb(242,119,38)"/>
<rect x="363.14" y="93.50" width="7.63" height="7.60" fill="rgb(242,119,38)"/>
<rect x="370.17" y="93.50" width="7.63" height="7.60" fill="rgb(242,119,38)"/>
<rect x="377.20" y="93.50" width="7.63" height="7.60" fill="rgb(249,150,54)"/>
<rect x="384.23" y="93.50" width="7.63" height="7.60" fill="rgb(249,150,54)"/>
<rect x="391.26" y="93.50" width="7.63" height="7.60" fill="rgb(249,150,54)"/>
<rect x="398.29" y="93.50" width="7.63" height="7.60" fill="rgb(249,150,54)"/>
<rect x="405.32" y="93.50" width="7.63" height="7.60" fill="rgb(242,119,38)"/>
<rect x="412.35" y="93.50" width="7.63" height="7.60" fill="rgb(242,119,38)"/>
<rect x="419.38" y="93.50" width="7.63" height="7.60" fill="rgb(249,150,54)"/>
<rect x="426.41" y="93.50" width="7.63" height="7.60" fill="rgb(249,150,54)"/>
<rect x="433.44" y="93.50" width="7.63" height="7.60" fill="rgb(252,181,75)"/>
<rect x="440.47" y="93.50" width="7.63" height="7.60" fill="rgb(249,150,54)"/>
<rect x="447.50" y="93.50" width="7.63" height="7.60" fill="rgb(249,150,54)"/>
<rect x="454.53" y="93.50" width="7.63" height="7.60" fill="rgb(249,150,54)"/>
<rect x="292.84" y="100.50" width="7.63" height="7.60" fill="rgb(242,119,38)"/>
<rect x="299.87" y="100.50" width="7.63" height="7.60" fill="rgb(242,119,38)"/>
<rect x="306.90" y="100.50" width="7.63" height="7.60" fill="rgb(242,119,38)"/>
<rect x="313.93" y="100.50" width="7.63" height="7.60" fill="rgb(242,119,38)"/>
<rect x="320.96" y="100.50" width="7.63" height="7.60" fill="rgb(252,181,75)"/>
<rect x="327.99" y="100.50" width="7.63" height="7.60" fill="rgb(252,181,75)"/>
<rect x="335.02" y="100.50" width="7.63" height="7.60" fill="rgb(249,150,54)"/>
<rect x="342.05" y="100.50" width="7.63" height="7.60" fill="rgb(249,150,54)"/>
<rect x="349.08" y="100.50" width="7.63" height="7.60" fill="rgb(249,150,54)"/>
<rect x="356.11" y="100.50" width="7.63" height="7.60" fill="rgb(242,119,38)"/>
<rect x="363.14" y="100.50" width="7.63" height="7.60" fill="rgb(242,119,38)"/>
<rect x="370.17" y="100.50" width="7.63" height="7.60" fill="rgb(249,150,54)"/>
<rect x="377.20" y="100.50" width="7.63" height="7.60" fill="rgb(249,150,54)"/>
<rect x="384.23" y="100.50" width="7.63" height="7.60" fill="rgb(249,150,54)"/>
<rect x="391.26" y="100.50" width="7.63" height="7.60" fill="rgb(249,150,54)"/>
<rect x="398.29" y="100.50" width="7.63" height="7.60" fill="rgb(249,150,54)"/>
<rect x="405.32" y="100.50" width="7.63" height="7.60" fill="rgb(249,150,54)"/>
<rect x="412.35" y="100.50" width="7.63" height="7.60" fill="rgb(242,119,38)"/>
<rect x="419.38" y="100.50" width="7.63" height="7.60" fill="rgb(249,150,54)"/>
<rect x="426.41" y="100.50" width="7.63" height="7.60" fill="rgb(252,181,75)"/>
<rect x="433.44" y="100.50" width="7.63" height="7.60" fill="rgb(249,150,54)"/>
<rect x="440.47" y="100.50" width="7.63" height="7.60" fill="rgb(249,150,54)"/>
<rect x="447.50" y="100.50" width="7.63" height="7.60" fill="rgb(249,150,54)"/>
<rect x="454.53" y="100.50" width="7.63" height="7.60" fill="rgb(249,150,54)"/>
<rect x="292.84" y="107.50" width="7.63" height="7.60" fill="rgb(242,119,38)"/>
<rect x="299.87" y="107.50" width="7.63" height="7.60" fill="rgb(242,119,38)"/>
<rect x="306.90" y="107.50" width="7.63" height="7.60" fill="rgb(242,119,38)"/>
<rect x="313.93" y="107.50" width="7.63" height="7.60" fill="rgb(252,181,75)"/>
<rect x="320.96" y="107.50" width="7.63" height="7.60" fill="rgb(252,181,75)"/>
<rect x="327.99" y="107.50" width="7.63" height="7.60" fill="rgb(249,150,54)"/>
<rect x="335.02" y="107.50" width="7.63" height="7.60" fill="rgb(249,150,54)"/>
<rect x="342.05" y="107.50" width="7.63" height="7.60" fill="rgb(249,150,54)"/>
<rect x="349.08" y="107.50" width="7.63" height="7.60" fill="rgb(249,150,54)"/>
<rect x="356.11" y="107.50" width="7.63" height="7.60" fill="rgb(249,150,54)"/>
<rect x="363.14" y="107.50" width="7.63" height="7.60" fill="rgb(249,150,54)"/>
<rect x="370.17" y="107.50" width="7.63" height="7.60" fill="rgb(249,150,54)"/>
<rect x="377.20" y="107.50" width="7.63" height="7.60" fill="rgb(249,150,54)"/>
<rect x="384.23" y="107.50" width="7.63" height="7.60" fill="rgb(242,119,38)"/>
<rect x="391.26" y="107.50" width="7.63" height="7.60" fill="rgb(242,119,38)"/>
<rect x="398.29" y="107.50" width="7.63" height="7.60" fill="rgb(242,119,38)"/>
<rect x="405.32" y="107.50" width="7.63" height="7.60" fill="rgb(242,119,38)"/>
<rect x="412.35" y="107.50" width="7.63" height="7.60" fill="rgb(249,150,54)"/>
<rect x="419.38" y="107.50" width="7.63" height="7.60" fill="rgb(249,150,54)"/>
<rect x="426.41" y="107.50" width="7.63" height="7.60" fill="rgb(249,150,54)"/>
<rect x="433.44" y="107.50" width="7.63" height="7.60" fill="rgb(242,119,38)"/>
<rect x="440.47" y="107.50" width="7.63" height="7.60" fill="rgb(249,150,54)"/>
<rect x="447.50" y="107.50" width="7.63" height="7.60" fill="rgb(249,150,54)"/>
<rect x="454.53" y="107.50" width="7.63" height="7.60" fill="rgb(249,150,54)"/>
<rect x="292.84" y="114.50" width="7.63" height="7.60" fill="rgb(249,150,54)"/>
<rect x="299.87" y="114.50" width="7.63" height="7.60" fill="rgb(249,150,54)"/>
<rect x="306.90" y="114.50" width="7.63" height="7.60" fill="rgb(249,150,54)"/>
<rect x="313.93" y="114.50" width="7.63" height="7.60" fill="rgb(249,150,54)"/>
<rect x="320.96" y="114.50" width="7.63" height="7.60" fill="rgb(242,119,38)"/>
<rect x="327.99" y="114.50" width="7.63" height="7.60" fill="rgb(249,150,54)"/>
<rect x="335.02" y="114.50" width="7.63" height="7.60" fill="rgb(249,150,54)"/>
<rect x="342.05" y="114.50" width="7.63" height="7.60" fill="rgb(249,150,54)"/>
<rect x="349.08" y="114.50" width="7.63" height="7.60" fill="rgb(249,150,54)"/>
<rect x="356.11" y="114.50" width="7.63" height="7.60" fill="rgb(249,150,54)"/>
<rect x="363.14" y="114.50" width="7.63" height="7.60" fill="rgb(242,119,38)"/>
<rect x="370.17" y="114.50" width="7.63" height="7.60" fill="rgb(249,150,54)"/>
<rect x="377.20" y="114.50" width="7.63" height="7.60" fill="rgb(252,181,75)"/>
<rect x="384.23" y="114.50" width="7.63" height="7.60" fill="rgb(242,119,38)"/>
<rect x="391.26" y="114.50" width="7.63" height="7.60" fill="rgb(242,119,38)"/>
<rect x="398.29" y="114.50" width="7.63" height="7.60" fill="rgb(242,119,38)"/>
<rect x="405.32" y="114.50" width="7.63" height="7.60" fill="rgb(242,119,38)"/>
<rect x="412.35" y="114.50" width="7.63" height="7.60" fill="rgb(242,119,38)"/>
<rect x="419.38" y="114.50" width="7.63" height="7.60" fill="rgb(249,150,54)"/>
<rect x="426.41" y="114.50" width="7.63" height="7.60" fill="rgb(242,119,38)"/>
<rect x="433.44" y="114.50" width="7.63" height="7.60" fill="rgb(249,150,54)"/>
<rect x="440.47" y="114.50" width="7.63" height="7.60" fill="rgb(249,150,54)"/>
<rect x="447.50" y="114.50" width="7.63" height="7.60" fill="rgb(249,150,54)"/>
<rect x="454.53" y="114.50" width="7.63" height="7.60" fill="rgb(249,150,54)"/>
<rect x="292.84" y="121.50" width="7.63" height="7.60" fill="rgb(242,119,38)"/>
<rect x="299.87" y="121.50" width="7.63" height="7.60" fill="rgb(242,119,38)"/>
<rect x="306.90" y="121.50" width="7.63" height="7.60" fill="rgb(242,119,38)"/>
<rect x="313.93" y="121.50" width="7.63" height="7.60" fill="rgb(249,150,54)"/>
<rect x="320.96" y="121.50" width="7.63" height="7.60" fill="rgb(249,150,54)"/>
<rect x="327.99" y="121.50" width="7.63" height="7.60" fill="rgb(249,150,54)"/>
<rect x="335.02" y="121.50" width="7.63" height="7.60" fill="rgb(249,150,54)"/>
<rect x="342.05" y="121.50" width="7.63" height="7.60" fill="rgb(249,150,54)"/>
<rect x="349.08" y="121.50" width="7.63" height="7.60" fill="rgb(249,150,54)"/>
<rect x="356.11" y="121.50" width="7.63" height="7.60" fill="rgb(249,150,54)"/>
<rect x="363.14" y="121.50" width="7.63" height="7.60" fill="rgb(249,150,54)"/>
<rect x="370.17" y="121.50" width="7.63" height="7.60" fill="rgb(249,150,54)"/>
<rect x="377.20" y="121.50" width="7.63" height="7.60" fill="rgb(252,181,75)"/>
<rect x="384.23" y="121.50" width="7.63" height="7.60" fill="rgb(249,150,54)"/>
<rect x="391.26" y="121.50" width="7.63" height="7.60" fill="rgb(249,150,54)"/>
<rect x="398.29" y="121.50" width="7.63" height="7.60" fill="rgb(242,119,38)"/>
<rect x="405.32" y="121.50" width="7.63" height="7.60" fill="rgb(249,150,54)"/>
<rect x="412.35" y="121.50" width="7.63" height="7.60" fill="rgb(249,150,54)"/>
<rect x="419.38" y="121.50" width="7.63" height="7.60" fill="rgb(249,150,54)"/>
<rect x="426.41" y="121.50" width="7.63" height="7.60" fill="rgb(249,150,54)"/>
<rect x="433.44" y="121.50" width="7.63" height="7.60" fill="rgb(249,150,54)"/>
<rect x="440.47" y="121.50" width="7.63" height="7.60" fill="rgb(252,181,75)"/>
<rect x="447.50" y="121.50" width="7.63" height="7.60" fill="rgb(252,181,75)"/>
<rect x="454.53" y="121.50" width="7.63" height="7.60" fill="rgb(252,181,75)"/>
<rect x="292.84" y="128.50" width="7.63" height="7.60" fill="rgb(242,119,38)"/>
<rect x="299.87" y="128.50" width="7.63" height="7.60" fill="rgb(242,119,38)"/>
<rect x="306.90" y="128.50" width="7.63" height="7.60" fill="rgb(242,119,38)"/>
<rect x="313.93" y="128.50" width="7.63" height="7.60" fill="rgb(249,150,54)"/>
<rect x="320.96" y="128.50" width="7.63" height="7.60" fill="rgb(249,150,54)"/>
<rect x="327.99" y="128.50" width="7.63" height="7.60" fill="rgb(249,150,54)"/>
<rect x="335.02" y="128.50" width="7.63" height="7.60" fill="rgb(249,150,54)"/>
<rect x="342.05" y="128.50" width="7.63" height="7.60" fill="rgb(249,150,54)"/>
<rect x="349.08" y="128.50" width="7.63" height="7.60" fill="rgb(249,150,54)"/>
<rect x="356.11" y="128.50" width="7.63" height="7.60" fill="rgb(249,150,54)"/>
<rect x="363.14" y="128.50" width="7.63" height="7.60" fill="rgb(249,150,54)"/>
<rect x="370.17" y="128.50" width="7.63" height="7.60" fill="rgb(249,150,54)"/>
<rect x="377.20" y="128.50" width="7.63" height="7.60" fill="rgb(252,181,75)"/>
<rect x="384.23" y="128.50" width="7.63" height="7.60" fill="rgb(249,150,54)"/>
<rect x="391.26" y="128.50" width="7.63" height="7.60" fill="rgb(249,150,54)"/>
<rect x="398.29" y="128.50" width="7.63" height="7.60" fill="rgb(242,119,38)"/>
<rect x="405.32" y="128.50" width="7.63" height="7.60" fill="rgb(249,150,54)"/>
<rect x="412.35" y="128.50" width="7.63" height="7.60" fill="rgb(249,150,54)"/>
<rect x="419.38" y="128.50" width="7.63" height="7.60" fill="rgb(249,150,54)"/>
<rect x="426.41" y="128.50" width="7.63" height="7.60" fill="rgb(249,150,54)"/>
<rect x="433.44" y="128.50" width="7.63" height="7.60" fill="rgb(249,150,54)"/>
<rect x="440.47" y="128.50" width="7.63" height="7.60" fill="rgb(252,181,75)"/>
<rect x="447.50" y="128.50" width="7.63" height="7.60" fill="rgb(252,181,75)"/>
<rect x="454.53" y="128.50" width="7.63" height="7.60" fill="rgb(252,181,75)"/>
<rect x="292.84" y="135.50" width="7.63" height="7.60" fill="rgb(242,119,38)"/>
<rect x="299.87" y="135.50" width="7.63" height="7.60" fill="rgb(242,119,38)"/>
<rect x="306.90" y="135.50" width="7.63" height="7.60" fill="rgb(242,119,38)"/>
<rect x="313.93" y="135.50" width="7.63" height="7.60" fill="rgb(249,150,54)"/>
<rect x="320.96" y="135.50" width="7.63" height="7.60" fill="rgb(249,150,54)"/>
<rect x="327.99" y="135.50" width="7.63" height="7.60" fill="rgb(249,150,54)"/>
<rect x="335.02" y="135.50" width="7.63" height="7.60" fill="rgb(249,150,54)"/>
<rect x="342.05" y="135.50" width="7.63" height="7.60" fill="rgb(249,150,54)"/>
<rect x="349.08" y="135.50" width="7.63" height="7.60" fill="rgb(249,150,54)"/>
<rect x="356.11" y="135.50" width="7.63" height="7.60" fill="rgb(249,150,54)"/>
<rect x="363.14" y="135.50" width="7.63" height="7.60" fill="rgb(249,150,54)"/>
<rect x="370.17" y="135.50" width="7.63" height="7.60" fill="rgb(249,150,54)"/>
<rect x="377.20" y="135.50" width="7.63" height="7.60" fill="rgb(252,181,75)"/>
<rect x="384.23" y="135.50" width="7.63" height="7.60" fill="rgb(249,150,54)"/>
<rect x="391.26" y="135.50" width="7.63" height="7.60" fill="rgb(249,150,54)"/>
<rect x="398.29" y="135.50" width="7.63" height="7.60" fill="rgb(242,119,38)"/>
<rect x="405.32" y="135.50" width="7.63" height="7.60" fill="rgb(249,150,54)"/>
<rect x="412.35" y="135.50" width="7.63" height="7.60" fill="rgb(249,150,54)"/>
<rect x="419.38" y="135.50" width="7.63" height="7.60" fill="rgb(249,150,54)"/>
<rect x="426.41" y="135.50" width="7.63" height="7.60" fill="rgb(249,150,54)"/>
<rect x="433.44" y="135.50" width="7.63" height="7.60" fill="rgb(249,150,54)"/>
<rect x="440.47" y="135.50" width="7.63" height="7.60" fill="rgb(252,181,75)"/>
<rect x="447.50" y="135.50" width="7.63" height="7.60" fill="rgb(252,181,75)"/>
<rect x="454.53" y="135.50" width="7.63" height="7.60" fill="rgb(252,181,75)"/>
</g></g>
<g clip-path="url(#cp2)"><g filter="url(#bl)">
<polyline points="363.6,62.0 353.6,72.0 343.6,83.0 333.6,94.0 326.6,103.0 318.6,108.0 310.6,113.0 305.6,116.0" fill="none" stroke="rgb(252,192,86)" stroke-width="4.5" stroke-linecap="round" stroke-linejoin="round"/>
<polyline points="362.0,25.0 355.0,34.0 349.0,42.0 344.0,50.0" fill="none" stroke="rgb(252,192,86)" stroke-width="3.5" stroke-linecap="round" stroke-linejoin="round"/>
</g></g>
<line x1="313.30" y1="9.50" x2="313.30" y2="128.50" stroke="rgba(255,255,255,0.07)" stroke-width="0.7"/>
<line x1="330.20" y1="9.50" x2="330.20" y2="128.50" stroke="rgba(255,255,255,0.07)" stroke-width="0.7"/>
<line x1="347.10" y1="9.50" x2="347.10" y2="128.50" stroke="rgba(255,255,255,0.07)" stroke-width="0.7"/>
<line x1="364.00" y1="9.50" x2="364.00" y2="128.50" stroke="rgba(255,255,255,0.07)" stroke-width="0.7"/>
<line x1="380.90" y1="9.50" x2="380.90" y2="128.50" stroke="rgba(255,255,255,0.07)" stroke-width="0.7"/>
<line x1="397.80" y1="9.50" x2="397.80" y2="128.50" stroke="rgba(255,255,255,0.07)" stroke-width="0.7"/>
<line x1="414.70" y1="9.50" x2="414.70" y2="128.50" stroke="rgba(255,255,255,0.07)" stroke-width="0.7"/>
<line x1="431.60" y1="9.50" x2="431.60" y2="128.50" stroke="rgba(255,255,255,0.07)" stroke-width="0.7"/>
<line x1="306.90" y1="21.60" x2="447.50" y2="21.60" stroke="rgba(255,255,255,0.07)" stroke-width="0.7"/>
<line x1="306.90" y1="44.40" x2="447.50" y2="44.40" stroke="rgba(255,255,255,0.07)" stroke-width="0.7"/>
<line x1="306.90" y1="67.20" x2="447.50" y2="67.20" stroke="rgba(255,255,255,0.07)" stroke-width="0.7"/>
<line x1="306.90" y1="90.00" x2="447.50" y2="90.00" stroke="rgba(255,255,255,0.07)" stroke-width="0.7"/>
<line x1="306.90" y1="112.80" x2="447.50" y2="112.80" stroke="rgba(255,255,255,0.07)" stroke-width="0.7"/>
<circle cx="331.00" cy="47.80" r="0.72" fill="#333"/>
<circle cx="362.70" cy="54.80" r="0.72" fill="#333"/>
<circle cx="373.10" cy="43.50" r="0.72" fill="#333"/>
<circle cx="374.30" cy="14.60" r="0.72" fill="#333"/>
<circle cx="402.50" cy="19.40" r="0.72" fill="#333"/>
<circle cx="397.20" cy="25.20" r="0.72" fill="#333"/>
<circle cx="392.30" cy="35.70" r="0.72" fill="#333"/>
<circle cx="417.30" cy="36.10" r="0.72" fill="#333"/>
<circle cx="396.80" cy="41.60" r="0.72" fill="#333"/>
<circle cx="397.80" cy="45.70" r="0.72" fill="#333"/>
<circle cx="386.60" cy="47.40" r="0.72" fill="#333"/>
<circle cx="404.20" cy="50.10" r="0.72" fill="#333"/>
<circle cx="422.10" cy="52.60" r="0.72" fill="#333"/>
<circle cx="394.00" cy="60.00" r="0.72" fill="#333"/>
<circle cx="395.10" cy="64.90" r="0.72" fill="#333"/>
<circle cx="443.10" cy="19.90" r="0.72" fill="#333"/>
<circle cx="327.60" cy="80.90" r="0.72" fill="#333"/>
<circle cx="353.20" cy="93.60" r="0.72" fill="#333"/>
<circle cx="363.80" cy="117.30" r="0.72" fill="#333"/>
<circle cx="311.80" cy="123.20" r="0.72" fill="#333"/>
<circle cx="366.90" cy="74.60" r="0.72" fill="#333"/>
<circle cx="414.10" cy="77.80" r="0.72" fill="#333"/>
<circle cx="395.10" cy="87.90" r="0.72" fill="#333"/>
<rect x="306.90" y="9.50" width="140.60" height="119.00" fill="none" stroke="rgba(30,30,30,0.8)" stroke-width="1"/>
<rect x="306.90" y="9.50" width="31.20" height="10.4" fill="#fff" stroke="rgba(30,30,30,0.85)" stroke-width="0.9"/>
<text opacity="0.99" x="322.50" y="13.90" font-size="4.2" text-anchor="middle" fill="#000">9/6/2014</text>
<text opacity="0.99" x="322.50" y="18.40" font-size="4.2" text-anchor="middle" fill="#000">Summer</text>
<text opacity="0.99" x="313.50" y="5.30" font-size="3.9" font-style="italic" text-anchor="middle" fill="#666">-4°48'</text>
<text opacity="0.99" x="330.40" y="5.30" font-size="3.9" font-style="italic" text-anchor="middle" fill="#666">-4°47'30&quot;</text>
<text opacity="0.99" x="347.30" y="5.30" font-size="3.9" font-style="italic" text-anchor="middle" fill="#666">-4°47'</text>
<text opacity="0.99" x="364.20" y="5.30" font-size="3.9" font-style="italic" text-anchor="middle" fill="#666">-4°46'30&quot;</text>
<text opacity="0.99" x="381.10" y="5.30" font-size="3.9" font-style="italic" text-anchor="middle" fill="#666">-4°46'</text>
<text opacity="0.99" x="398.00" y="5.30" font-size="3.9" font-style="italic" text-anchor="middle" fill="#666">-4°45'30&quot;</text>
<text opacity="0.99" x="414.90" y="5.30" font-size="3.9" font-style="italic" text-anchor="middle" fill="#666">-4°45'</text>
<text opacity="0.99" x="431.80" y="5.30" font-size="3.9" font-style="italic" text-anchor="middle" fill="#666">-4°44'30&quot;</text>
<line x1="311.90" y1="138.20" x2="436.30" y2="138.20" stroke="#cfcfcf" stroke-width="0.9"/>
<line x1="311.90" y1="137.00" x2="311.90" y2="138.70" stroke="#9a9a9a" stroke-width="0.6"/>
<line x1="374.20" y1="137.00" x2="374.20" y2="138.70" stroke="#9a9a9a" stroke-width="0.6"/>
<line x1="436.30" y1="137.00" x2="436.30" y2="138.70" stroke="#9a9a9a" stroke-width="0.6"/>
<text opacity="0.99" x="311.90" y="135.50" font-size="3.4" text-anchor="middle" fill="#777">0</text>
<text opacity="0.99" x="374.20" y="135.50" font-size="3.4" text-anchor="middle" fill="#777">2.5</text>
<text opacity="0.99" x="435.70" y="135.50" font-size="3.1" text-anchor="start" fill="#777">5 Km</text>
<rect x="6.80" y="148.80" width="146.20" height="123.60" fill="none" stroke="#d9d9d9" stroke-width="0.9"/>
<g clip-path="url(#cp3)"><g filter="url(#bd)">
<rect x="5.40" y="147.40" width="149.00" height="126.40" fill="rgb(252,198,78)"/>
<polygon points="40.8,147.4 110.0,147.4 108.0,158.0 104.0,164.0 97.0,168.0 90.0,166.0 82.0,166.0 74.0,168.0 64.0,167.5 54.0,168.5 46.0,166.0 41.0,161.0" fill="rgb(190,222,135)"/>
<polygon points="45.0,147.4 92.0,147.4 90.0,158.0 86.0,163.0 78.0,164.5 68.0,165.0 58.0,164.0 50.0,161.0 46.0,157.0" fill="rgb(152,207,158)"/>
<polygon points="49.0,147.4 86.0,147.4 85.0,157.0 80.0,162.0 72.0,163.0 62.0,162.0 55.0,160.0 50.0,157.0" fill="rgb(110,191,187)"/>
<ellipse cx="70.0" cy="152.5" rx="10.0" ry="3.0" fill="rgb(110,191,187)"/>
<polygon points="107.0,147.4 120.0,147.4 120.0,160.0 117.0,167.0 108.0,167.0 107.0,160.0" fill="rgb(252,181,75)"/>
<polygon points="126.0,147.4 141.0,147.4 141.0,160.0 136.0,165.0 128.0,164.0" fill="rgb(252,181,75)"/>
<polygon points="5.4,162.7 20.0,162.7 21.0,168.0 19.0,173.6 12.0,175.0 5.4,175.0" fill="rgb(246,230,86)"/>
<polygon points="21.7,162.7 32.6,162.7 33.0,171.8 22.0,171.0" fill="rgb(252,181,75)"/>
<polygon points="5.4,175.0 15.0,171.0 20.0,168.0 32.6,168.0 34.0,176.0 33.0,186.4 26.0,189.0 20.0,192.0 16.0,200.0 5.4,201.0" fill="rgb(190,222,135)"/>
<polygon points="21.0,176.0 30.0,175.0 32.0,182.0 27.0,187.0 21.0,184.0" fill="rgb(152,207,158)"/>
<polygon points="5.4,182.7 14.0,182.0 18.0,186.0 18.0,194.0 15.0,200.0 5.4,200.0" fill="rgb(110,191,187)"/>
<polygon points="40.0,166.0 60.0,166.0 60.0,176.0 56.0,186.0 56.0,192.0 46.0,192.0 45.0,180.0 40.0,175.0" fill="rgb(246,230,86)"/>
<polygon points="66.0,170.0 80.0,169.0 85.4,174.0 82.0,182.0 76.0,190.0 72.0,197.3 64.0,197.0 63.5,190.0 68.0,182.0 64.0,176.0" fill="rgb(252,181,75)"/>
<polygon points="89.0,170.0 104.0,170.0 109.0,176.0 106.0,188.0 96.0,192.0 89.0,186.0" fill="rgb(252,181,75)"/>
<polygon points="5.4,199.0 19.7,199.0 19.7,211.0 5.4,211.0" fill="rgb(246,230,86)"/>
<polygon points="5.4,218.6 19.7,218.6 20.0,226.0 17.0,231.5 5.4,231.5" fill="rgb(242,228,100)"/>
<ellipse cx="42.2" cy="229.3" rx="3.3" ry="4.3" fill="rgb(242,228,100)"/>
<polygon points="30.0,231.5 36.0,231.5 37.0,238.0 44.4,240.0 44.0,252.0 40.0,256.0 28.0,256.0 24.0,250.0 25.0,242.0 30.0,240.0" fill="rgb(242,228,100)"/>
<ellipse cx="58.4" cy="216.0" rx="6.4" ry="3.8" fill="rgb(242,228,100)"/>
<ellipse cx="66.8" cy="227.0" rx="4.2" ry="4.2" fill="rgb(242,228,100)"/>
<polygon points="64.8,273.8 70.0,262.0 80.0,257.0 80.0,273.8" fill="rgb(242,228,100)"/>
<ellipse cx="59.5" cy="239.0" rx="7.5" ry="5.3" fill="rgb(252,181,75)"/>
<ellipse cx="37.0" cy="217.0" rx="2.2" ry="2.9" fill="rgb(252,181,75)"/>
<ellipse cx="15.3" cy="263.5" rx="2.0" ry="4.5" fill="rgb(252,181,75)"/>
<polygon points="109.0,200.0 135.0,199.5 148.0,197.0 154.4,195.0 154.4,222.0 140.0,222.0 125.0,219.0 109.0,219.0" fill="rgb(246,230,86)"/>
<polygon points="138.0,224.0 154.4,222.0 154.4,253.0 141.0,251.0 137.0,240.0" fill="rgb(246,230,86)"/>
<polygon points="137.0,273.8 137.0,258.0 143.0,253.0 154.4,253.0 154.4,273.8" fill="rgb(246,230,86)"/>
<polygon points="83.0,229.0 97.0,229.0 102.6,236.0 100.0,246.0 96.0,253.0 86.0,253.0 83.0,244.0" fill="rgb(220,228,112)"/>
<ellipse cx="122.0" cy="237.0" rx="3.2" ry="3.2" fill="rgb(252,181,75)"/>
<ellipse cx="110.2" cy="252.0" rx="3.2" ry="3.2" fill="rgb(252,181,75)"/>
<ellipse cx="130.6" cy="231.3" rx="2.0" ry="2.3" fill="rgb(252,181,75)"/>
<polygon points="143.5,158.6 154.4,158.6 154.4,180.0 144.0,180.0" fill="rgb(246,230,86)"/>
<ellipse cx="141.5" cy="190.7" rx="6.5" ry="4.2" fill="rgb(246,230,86)"/>
<ellipse cx="97.3" cy="176.7" rx="5.3" ry="5.2" fill="rgb(252,181,75)"/>
<ellipse cx="82.0" cy="182.0" rx="3.0" ry="2.0" fill="rgb(252,181,75)"/>
<ellipse cx="96.2" cy="190.8" rx="4.2" ry="2.2" fill="rgb(252,181,75)"/>
<ellipse cx="124.2" cy="199.3" rx="4.2" ry="3.3" fill="rgb(252,181,75)"/>
</g></g>
<line x1="15.80" y1="151.40" x2="15.80" y2="269.80" stroke="rgba(255,255,255,0.07)" stroke-width="0.7"/>
<line x1="32.70" y1="151.40" x2="32.70" y2="269.80" stroke="rgba(255,255,255,0.07)" stroke-width="0.7"/>
<line x1="49.60" y1="151.40" x2="49.60" y2="269.80" stroke="rgba(255,255,255,0.07)" stroke-width="0.7"/>
<line x1="66.50" y1="151.40" x2="66.50" y2="269.80" stroke="rgba(255,255,255,0.07)" stroke-width="0.7"/>
<line x1="83.40" y1="151.40" x2="83.40" y2="269.80" stroke="rgba(255,255,255,0.07)" stroke-width="0.7"/>
<line x1="100.30" y1="151.40" x2="100.30" y2="269.80" stroke="rgba(255,255,255,0.07)" stroke-width="0.7"/>
<line x1="117.20" y1="151.40" x2="117.20" y2="269.80" stroke="rgba(255,255,255,0.07)" stroke-width="0.7"/>
<line x1="134.10" y1="151.40" x2="134.10" y2="269.80" stroke="rgba(255,255,255,0.07)" stroke-width="0.7"/>
<line x1="9.40" y1="163.50" x2="150.40" y2="163.50" stroke="rgba(255,255,255,0.07)" stroke-width="0.7"/>
<line x1="9.40" y1="186.30" x2="150.40" y2="186.30" stroke="rgba(255,255,255,0.07)" stroke-width="0.7"/>
<line x1="9.40" y1="209.10" x2="150.40" y2="209.10" stroke="rgba(255,255,255,0.07)" stroke-width="0.7"/>
<line x1="9.40" y1="231.90" x2="150.40" y2="231.90" stroke="rgba(255,255,255,0.07)" stroke-width="0.7"/>
<line x1="9.40" y1="254.70" x2="150.40" y2="254.70" stroke="rgba(255,255,255,0.07)" stroke-width="0.7"/>
<circle cx="33.50" cy="189.70" r="0.72" fill="#333"/>
<circle cx="65.20" cy="196.70" r="0.72" fill="#333"/>
<circle cx="75.60" cy="185.40" r="0.72" fill="#333"/>
<circle cx="76.80" cy="156.50" r="0.72" fill="#333"/>
<circle cx="105.00" cy="161.30" r="0.72" fill="#333"/>
<circle cx="99.70" cy="167.10" r="0.72" fill="#333"/>
<circle cx="94.80" cy="177.60" r="0.72" fill="#333"/>
<circle cx="119.80" cy="178.00" r="0.72" fill="#333"/>
<circle cx="99.30" cy="183.50" r="0.72" fill="#333"/>
<circle cx="100.30" cy="187.60" r="0.72" fill="#333"/>
<circle cx="89.10" cy="189.30" r="0.72" fill="#333"/>
<circle cx="106.70" cy="192.00" r="0.72" fill="#333"/>
<circle cx="124.60" cy="194.50" r="0.72" fill="#333"/>
<circle cx="96.50" cy="201.90" r="0.72" fill="#333"/>
<circle cx="97.60" cy="206.80" r="0.72" fill="#333"/>
<circle cx="145.60" cy="161.80" r="0.72" fill="#333"/>
<circle cx="30.10" cy="222.80" r="0.72" fill="#333"/>
<circle cx="55.70" cy="235.50" r="0.72" fill="#333"/>
<circle cx="66.30" cy="259.20" r="0.72" fill="#333"/>
<circle cx="14.30" cy="265.10" r="0.72" fill="#333"/>
<circle cx="69.40" cy="216.50" r="0.72" fill="#333"/>
<circle cx="116.60" cy="219.70" r="0.72" fill="#333"/>
<circle cx="97.60" cy="229.80" r="0.72" fill="#333"/>
<rect x="9.40" y="151.40" width="141.00" height="118.40" fill="none" stroke="rgba(30,30,30,0.8)" stroke-width="1"/>
<rect x="9.40" y="151.40" width="31.20" height="10.4" fill="#fff" stroke="rgba(30,30,30,0.85)" stroke-width="0.9"/>
<text opacity="0.99" x="25.00" y="155.80" font-size="4.2" text-anchor="middle" fill="#000">6/30/2014</text>
<text opacity="0.99" x="25.00" y="160.30" font-size="4.2" text-anchor="middle" fill="#000">Summer</text>
<text opacity="0.99" x="16.00" y="147.20" font-size="3.9" font-style="italic" text-anchor="middle" fill="#666">-4°48'</text>
<text opacity="0.99" x="32.90" y="147.20" font-size="3.9" font-style="italic" text-anchor="middle" fill="#666">-4°47'30&quot;</text>
<text opacity="0.99" x="49.80" y="147.20" font-size="3.9" font-style="italic" text-anchor="middle" fill="#666">-4°47'</text>
<text opacity="0.99" x="66.70" y="147.20" font-size="3.9" font-style="italic" text-anchor="middle" fill="#666">-4°46'30&quot;</text>
<text opacity="0.99" x="83.60" y="147.20" font-size="3.9" font-style="italic" text-anchor="middle" fill="#666">-4°46'</text>
<text opacity="0.99" x="100.50" y="147.20" font-size="3.9" font-style="italic" text-anchor="middle" fill="#666">-4°45'30&quot;</text>
<text opacity="0.99" x="117.40" y="147.20" font-size="3.9" font-style="italic" text-anchor="middle" fill="#666">-4°45'</text>
<text opacity="0.99" x="134.30" y="147.20" font-size="3.9" font-style="italic" text-anchor="middle" fill="#666">-4°44'30&quot;</text>
<text opacity="0.99" x="0" y="0" font-size="3.9" font-style="italic" text-anchor="middle" fill="#666" transform="translate(5.20,163.50) rotate(-90)">41°49'</text>
<text opacity="0.99" x="0" y="0" font-size="3.9" font-style="italic" text-anchor="middle" fill="#666" transform="translate(5.20,186.30) rotate(-90)">41°48'30&quot;</text>
<text opacity="0.99" x="0" y="0" font-size="3.9" font-style="italic" text-anchor="middle" fill="#666" transform="translate(5.20,209.10) rotate(-90)">41°48'</text>
<text opacity="0.99" x="0" y="0" font-size="3.9" font-style="italic" text-anchor="middle" fill="#666" transform="translate(5.20,231.90) rotate(-90)">41°47'30&quot;</text>
<text opacity="0.99" x="0" y="0" font-size="3.9" font-style="italic" text-anchor="middle" fill="#666" transform="translate(5.20,254.70) rotate(-90)">41°47'</text>
<line x1="14.40" y1="280.10" x2="138.80" y2="280.10" stroke="#cfcfcf" stroke-width="0.9"/>
<line x1="14.40" y1="278.90" x2="14.40" y2="280.60" stroke="#9a9a9a" stroke-width="0.6"/>
<line x1="76.70" y1="278.90" x2="76.70" y2="280.60" stroke="#9a9a9a" stroke-width="0.6"/>
<line x1="138.80" y1="278.90" x2="138.80" y2="280.60" stroke="#9a9a9a" stroke-width="0.6"/>
<text opacity="0.99" x="14.40" y="277.30" font-size="3.4" text-anchor="middle" fill="#777">0</text>
<text opacity="0.99" x="76.70" y="277.30" font-size="3.4" text-anchor="middle" fill="#777">2.5</text>
<text opacity="0.99" x="138.20" y="277.30" font-size="3.1" text-anchor="start" fill="#777">5 Km</text>
<rect x="155.20" y="148.80" width="145.90" height="123.60" fill="none" stroke="#d9d9d9" stroke-width="0.9"/>
<g clip-path="url(#cp4)"><g filter="url(#bd)">
<rect x="153.80" y="147.40" width="148.70" height="126.40" fill="rgb(135,200,172)"/>
<polygon points="204.0,147.4 302.5,147.4 302.5,168.0 280.0,167.0 265.0,166.0 250.0,166.0 238.0,166.0 226.0,165.0 215.0,164.0 205.0,162.0 202.0,157.0" fill="rgb(110,191,187)"/>
<ellipse cx="213.0" cy="157.5" rx="8.0" ry="3.5" fill="rgb(75,178,205)"/>
<ellipse cx="258.8" cy="160.0" rx="3.8" ry="6.5" fill="rgb(135,200,172)"/>
<polygon points="153.8,163.0 170.0,163.0 171.0,170.0 170.0,178.0 153.8,178.0" fill="rgb(180,214,148)"/>
<polygon points="153.8,182.0 170.0,186.0 178.0,184.0 189.0,191.0 196.0,197.0 198.0,205.0 192.0,212.0 190.0,225.0 193.0,231.0 200.0,234.0 207.0,233.0 214.0,232.0 219.0,238.0 219.0,250.0 214.0,258.0 208.0,264.0 200.0,266.0 195.0,273.8 153.8,273.8" fill="rgb(180,214,148)"/>
<polygon points="200.7,200.0 206.5,193.0 215.0,187.0 221.5,182.0 229.0,179.0 236.0,178.0 241.0,182.0 241.0,195.0 238.0,205.0 232.0,210.0 222.0,206.0 212.0,202.0" fill="rgb(180,214,148)"/>
<ellipse cx="182.8" cy="230.5" rx="4.3" ry="7.5" fill="rgb(135,200,172)"/>
<ellipse cx="175.3" cy="257.5" rx="5.3" ry="6.5" fill="rgb(135,200,172)"/>
<polygon points="253.5,166.0 302.5,166.0 302.5,273.8 215.0,273.8 218.0,262.0 222.0,256.0 225.0,245.0 225.0,232.0 228.0,222.0 232.0,214.0 238.0,210.0 241.0,200.0 244.0,190.0 249.0,180.0 253.0,172.0" fill="rgb(110,191,187)"/>
<polygon points="275.0,168.0 302.5,168.0 302.5,177.0 275.0,177.0" fill="rgb(135,200,172)"/>
<polygon points="227.0,216.0 238.0,214.0 241.0,225.0 240.0,240.0 232.0,243.0 227.0,238.0" fill="rgb(135,200,172)"/>
<polygon points="229.0,224.0 243.8,224.0 243.8,240.0 229.0,240.0" fill="rgb(180,214,148)"/>
<polygon points="259.0,221.0 275.0,219.0 287.0,226.0 286.0,237.0 277.0,240.0 268.0,248.0 256.0,250.0 242.0,248.0 240.0,238.0 250.0,234.0 257.0,228.0" fill="rgb(135,200,172)"/>
<polygon points="244.0,251.0 262.0,250.0 276.0,256.0 275.0,265.0 260.0,267.0 246.0,262.0" fill="rgb(135,200,172)"/>
<ellipse cx="273.0" cy="199.5" rx="7.0" ry="5.0" fill="rgb(135,200,172)"/>
<polygon points="244.0,195.0 254.0,189.0 266.0,190.0 272.0,196.0 276.0,204.0 278.0,218.0 270.0,220.0 262.0,214.0 256.0,222.0 250.0,227.0 240.0,226.0 238.0,215.0 242.0,208.0 244.0,200.0" fill="rgb(75,178,205)"/>
<ellipse cx="262.3" cy="180.0" rx="4.0" ry="5.0" fill="rgb(75,178,205)"/>
<ellipse cx="274.7" cy="181.0" rx="3.8" ry="4.0" fill="rgb(75,178,205)"/>
<polygon points="284.0,183.0 293.0,182.0 294.0,192.0 292.0,199.0 280.0,199.0 281.0,193.0 285.0,190.0" fill="rgb(75,178,205)"/>
<polygon points="281.0,204.0 290.0,201.0 302.5,202.0 302.5,219.0 288.0,220.0 282.0,214.0" fill="rgb(75,178,205)"/>
<ellipse cx="288.0" cy="224.0" rx="5.0" ry="5.0" fill="rgb(75,178,205)"/>
<ellipse cx="232.7" cy="213.0" rx="3.7" ry="6.0" fill="rgb(75,178,205)"/>
<ellipse cx="272.5" cy="155.3" rx="3.0" ry="3.0" fill="rgb(75,178,205)"/>
<ellipse cx="247.5" cy="216.5" rx="7.5" ry="6.5" fill="rgb(75,178,205)"/>
<ellipse cx="273.3" cy="217.5" rx="5.3" ry="5.5" fill="rgb(75,178,205)"/>
<polygon points="274.0,210.0 302.5,210.0 302.5,215.4 276.0,215.4" fill="rgb(75,178,205)"/>
<ellipse cx="289.3" cy="225.0" rx="4.3" ry="6.5" fill="rgb(75,178,205)"/>
<polygon points="275.0,246.0 287.0,244.0 296.0,248.0 295.0,258.0 286.0,261.6 276.0,258.0" fill="rgb(75,178,205)"/>
<polygon points="289.0,238.0 302.5,238.0 302.5,248.7 290.0,247.0" fill="rgb(75,178,205)"/>
<ellipse cx="223.0" cy="266.0" rx="6.0" ry="5.0" fill="rgb(75,178,205)"/>
</g></g>
<line x1="164.20" y1="151.40" x2="164.20" y2="269.80" stroke="rgba(255,255,255,0.07)" stroke-width="0.7"/>
<line x1="181.10" y1="151.40" x2="181.10" y2="269.80" stroke="rgba(255,255,255,0.07)" stroke-width="0.7"/>
<line x1="198.00" y1="151.40" x2="198.00" y2="269.80" stroke="rgba(255,255,255,0.07)" stroke-width="0.7"/>
<line x1="214.90" y1="151.40" x2="214.90" y2="269.80" stroke="rgba(255,255,255,0.07)" stroke-width="0.7"/>
<line x1="231.80" y1="151.40" x2="231.80" y2="269.80" stroke="rgba(255,255,255,0.07)" stroke-width="0.7"/>
<line x1="248.70" y1="151.40" x2="248.70" y2="269.80" stroke="rgba(255,255,255,0.07)" stroke-width="0.7"/>
<line x1="265.60" y1="151.40" x2="265.60" y2="269.80" stroke="rgba(255,255,255,0.07)" stroke-width="0.7"/>
<line x1="282.50" y1="151.40" x2="282.50" y2="269.80" stroke="rgba(255,255,255,0.07)" stroke-width="0.7"/>
<line x1="157.80" y1="163.50" x2="298.50" y2="163.50" stroke="rgba(255,255,255,0.07)" stroke-width="0.7"/>
<line x1="157.80" y1="186.30" x2="298.50" y2="186.30" stroke="rgba(255,255,255,0.07)" stroke-width="0.7"/>
<line x1="157.80" y1="209.10" x2="298.50" y2="209.10" stroke="rgba(255,255,255,0.07)" stroke-width="0.7"/>
<line x1="157.80" y1="231.90" x2="298.50" y2="231.90" stroke="rgba(255,255,255,0.07)" stroke-width="0.7"/>
<line x1="157.80" y1="254.70" x2="298.50" y2="254.70" stroke="rgba(255,255,255,0.07)" stroke-width="0.7"/>
<circle cx="181.90" cy="189.70" r="0.72" fill="#333"/>
<circle cx="213.60" cy="196.70" r="0.72" fill="#333"/>
<circle cx="224.00" cy="185.40" r="0.72" fill="#333"/>
<circle cx="225.20" cy="156.50" r="0.72" fill="#333"/>
<circle cx="253.40" cy="161.30" r="0.72" fill="#333"/>
<circle cx="248.10" cy="167.10" r="0.72" fill="#333"/>
<circle cx="243.20" cy="177.60" r="0.72" fill="#333"/>
<circle cx="268.20" cy="178.00" r="0.72" fill="#333"/>
<circle cx="247.70" cy="183.50" r="0.72" fill="#333"/>
<circle cx="248.70" cy="187.60" r="0.72" fill="#333"/>
<circle cx="237.50" cy="189.30" r="0.72" fill="#333"/>
<circle cx="255.10" cy="192.00" r="0.72" fill="#333"/>
<circle cx="273.00" cy="194.50" r="0.72" fill="#333"/>
<circle cx="244.90" cy="201.90" r="0.72" fill="#333"/>
<circle cx="246.00" cy="206.80" r="0.72" fill="#333"/>
<circle cx="294.00" cy="161.80" r="0.72" fill="#333"/>
<circle cx="178.50" cy="222.80" r="0.72" fill="#333"/>
<circle cx="204.10" cy="235.50" r="0.72" fill="#333"/>
<circle cx="214.70" cy="259.20" r="0.72" fill="#333"/>
<circle cx="162.70" cy="265.10" r="0.72" fill="#333"/>
<circle cx="217.80" cy="216.50" r="0.72" fill="#333"/>
<circle cx="265.00" cy="219.70" r="0.72" fill="#333"/>
<circle cx="246.00" cy="229.80" r="0.72" fill="#333"/>
<rect x="157.80" y="151.40" width="140.70" height="118.40" fill="none" stroke="rgba(30,30,30,0.8)" stroke-width="1"/>
<rect x="157.80" y="151.40" width="31.20" height="10.4" fill="#fff" stroke="rgba(30,30,30,0.85)" stroke-width="0.9"/>
<text opacity="0.99" x="173.40" y="155.80" font-size="4.2" text-anchor="middle" fill="#000">12/20/2014</text>
<text opacity="0.99" x="173.40" y="160.30" font-size="4.2" text-anchor="middle" fill="#000">Winter</text>
<text opacity="0.99" x="164.40" y="147.20" font-size="3.9" font-style="italic" text-anchor="middle" fill="#666">-4°48'</text>
<text opacity="0.99" x="181.30" y="147.20" font-size="3.9" font-style="italic" text-anchor="middle" fill="#666">-4°47'30&quot;</text>
<text opacity="0.99" x="198.20" y="147.20" font-size="3.9" font-style="italic" text-anchor="middle" fill="#666">-4°47'</text>
<text opacity="0.99" x="215.10" y="147.20" font-size="3.9" font-style="italic" text-anchor="middle" fill="#666">-4°46'30&quot;</text>
<text opacity="0.99" x="232.00" y="147.20" font-size="3.9" font-style="italic" text-anchor="middle" fill="#666">-4°46'</text>
<text opacity="0.99" x="248.90" y="147.20" font-size="3.9" font-style="italic" text-anchor="middle" fill="#666">-4°45'30&quot;</text>
<text opacity="0.99" x="265.80" y="147.20" font-size="3.9" font-style="italic" text-anchor="middle" fill="#666">-4°45'</text>
<text opacity="0.99" x="282.70" y="147.20" font-size="3.9" font-style="italic" text-anchor="middle" fill="#666">-4°44'30&quot;</text>
<line x1="162.80" y1="280.10" x2="287.20" y2="280.10" stroke="#cfcfcf" stroke-width="0.9"/>
<line x1="162.80" y1="278.90" x2="162.80" y2="280.60" stroke="#9a9a9a" stroke-width="0.6"/>
<line x1="225.10" y1="278.90" x2="225.10" y2="280.60" stroke="#9a9a9a" stroke-width="0.6"/>
<line x1="287.20" y1="278.90" x2="287.20" y2="280.60" stroke="#9a9a9a" stroke-width="0.6"/>
<text opacity="0.99" x="162.80" y="277.30" font-size="3.4" text-anchor="middle" fill="#777">0</text>
<text opacity="0.99" x="225.10" y="277.30" font-size="3.4" text-anchor="middle" fill="#777">2.5</text>
<text opacity="0.99" x="286.60" y="277.30" font-size="3.1" text-anchor="start" fill="#777">5 Km</text>
<rect x="303.60" y="148.80" width="145.80" height="123.60" fill="none" stroke="#d9d9d9" stroke-width="0.9"/>
<g clip-path="url(#cp5)"><g filter="url(#bd)">
<rect x="302.20" y="147.40" width="148.60" height="126.40" fill="rgb(110,191,187)"/>
<polygon points="337.0,147.4 377.0,147.4 377.0,167.0 367.4,171.5 358.8,178.0 352.3,184.4 345.9,190.9 342.6,194.0 341.6,191.0 337.3,193.0 330.8,195.2 333.0,190.9 335.1,184.4 329.7,178.0 329.7,167.2 335.1,163.0" fill="rgb(50,166,207)"/>
<polygon points="376.0,147.4 415.0,147.4 414.7,160.0 405.0,164.0 405.0,172.0 414.7,176.0 414.7,190.0 409.0,195.0 410.0,204.0 416.0,211.0 420.0,222.0 420.0,232.0 418.0,240.0 410.0,236.0 400.0,232.0 392.0,226.0 386.0,220.0 384.0,214.0 388.0,211.0 393.0,206.0 397.0,200.0 398.6,190.0 396.0,184.0 392.0,178.0 386.0,173.0 380.0,170.0 376.0,169.0" fill="rgb(50,166,207)"/>
<polygon points="405.0,147.4 450.8,147.4 450.8,273.8 418.0,273.8 418.0,240.0 420.0,232.0 428.0,228.0 431.0,220.0 431.0,210.0 420.0,205.0 416.0,200.0 414.7,193.0 413.0,180.0 408.0,174.0 405.0,166.0" fill="rgb(38,160,214)"/>
<ellipse cx="435.0" cy="195.0" rx="8.5" ry="4.3" fill="rgb(110,191,187)"/>
<polygon points="407.0,218.0 418.0,215.0 428.0,214.0 432.0,219.0 430.0,226.0 422.0,230.0 416.0,236.0 410.0,240.0 403.0,239.0 403.0,232.0 408.0,226.0" fill="rgb(158,207,163)"/>
<polygon points="386.0,242.0 396.0,239.0 405.0,240.0 404.0,247.0 396.0,251.0 386.0,249.0" fill="rgb(158,207,163)"/>
<ellipse cx="394.3" cy="260.3" rx="6.3" ry="3.3" fill="rgb(75,178,205)"/>
<polygon points="376.0,260.0 383.0,262.0 383.0,273.8 376.0,273.8" fill="rgb(75,178,205)"/>
<polygon points="315.0,206.0 318.0,202.0 328.7,201.6 331.0,207.0 343.7,209.0 343.0,216.0 336.0,219.0 328.0,218.0 322.0,221.8 315.0,219.0 313.0,213.0" fill="rgb(158,207,163)"/>
<ellipse cx="315.7" cy="229.3" rx="4.3" ry="4.3" fill="rgb(75,178,205)"/>
<polygon points="325.0,228.0 335.0,226.0 339.4,231.0 337.0,238.0 330.0,240.0 325.0,236.0" fill="rgb(75,178,205)"/>
<polygon points="352.3,218.0 360.0,216.5 367.4,220.0 366.0,230.0 358.0,233.6 353.0,228.0" fill="rgb(75,178,205)"/>
<ellipse cx="338.3" cy="247.7" rx="3.3" ry="3.3" fill="rgb(75,178,205)"/>
<polygon points="327.0,258.0 340.0,257.0 352.3,262.0 352.0,273.8 327.0,273.8" fill="rgb(75,178,205)"/>
<polygon points="367.4,247.0 377.0,246.6 377.0,273.8 367.4,273.8" fill="rgb(75,178,205)"/>
<ellipse cx="359.7" cy="239.0" rx="5.0" ry="3.0" fill="rgb(135,200,172)"/>
</g></g>
<line x1="312.60" y1="151.40" x2="312.60" y2="269.80" stroke="rgba(255,255,255,0.07)" stroke-width="0.7"/>
<line x1="329.50" y1="151.40" x2="329.50" y2="269.80" stroke="rgba(255,255,255,0.07)" stroke-width="0.7"/>
<line x1="346.40" y1="151.40" x2="346.40" y2="269.80" stroke="rgba(255,255,255,0.07)" stroke-width="0.7"/>
<line x1="363.30" y1="151.40" x2="363.30" y2="269.80" stroke="rgba(255,255,255,0.07)" stroke-width="0.7"/>
<line x1="380.20" y1="151.40" x2="380.20" y2="269.80" stroke="rgba(255,255,255,0.07)" stroke-width="0.7"/>
<line x1="397.10" y1="151.40" x2="397.10" y2="269.80" stroke="rgba(255,255,255,0.07)" stroke-width="0.7"/>
<line x1="414.00" y1="151.40" x2="414.00" y2="269.80" stroke="rgba(255,255,255,0.07)" stroke-width="0.7"/>
<line x1="430.90" y1="151.40" x2="430.90" y2="269.80" stroke="rgba(255,255,255,0.07)" stroke-width="0.7"/>
<line x1="306.20" y1="163.50" x2="446.80" y2="163.50" stroke="rgba(255,255,255,0.07)" stroke-width="0.7"/>
<line x1="306.20" y1="186.30" x2="446.80" y2="186.30" stroke="rgba(255,255,255,0.07)" stroke-width="0.7"/>
<line x1="306.20" y1="209.10" x2="446.80" y2="209.10" stroke="rgba(255,255,255,0.07)" stroke-width="0.7"/>
<line x1="306.20" y1="231.90" x2="446.80" y2="231.90" stroke="rgba(255,255,255,0.07)" stroke-width="0.7"/>
<line x1="306.20" y1="254.70" x2="446.80" y2="254.70" stroke="rgba(255,255,255,0.07)" stroke-width="0.7"/>
<circle cx="330.30" cy="189.70" r="0.72" fill="#333"/>
<circle cx="362.00" cy="196.70" r="0.72" fill="#333"/>
<circle cx="372.40" cy="185.40" r="0.72" fill="#333"/>
<circle cx="373.60" cy="156.50" r="0.72" fill="#333"/>
<circle cx="401.80" cy="161.30" r="0.72" fill="#333"/>
<circle cx="396.50" cy="167.10" r="0.72" fill="#333"/>
<circle cx="391.60" cy="177.60" r="0.72" fill="#333"/>
<circle cx="416.60" cy="178.00" r="0.72" fill="#333"/>
<circle cx="396.10" cy="183.50" r="0.72" fill="#333"/>
<circle cx="397.10" cy="187.60" r="0.72" fill="#333"/>
<circle cx="385.90" cy="189.30" r="0.72" fill="#333"/>
<circle cx="403.50" cy="192.00" r="0.72" fill="#333"/>
<circle cx="421.40" cy="194.50" r="0.72" fill="#333"/>
<circle cx="393.30" cy="201.90" r="0.72" fill="#333"/>
<circle cx="394.40" cy="206.80" r="0.72" fill="#333"/>
<circle cx="442.40" cy="161.80" r="0.72" fill="#333"/>
<circle cx="326.90" cy="222.80" r="0.72" fill="#333"/>
<circle cx="352.50" cy="235.50" r="0.72" fill="#333"/>
<circle cx="363.10" cy="259.20" r="0.72" fill="#333"/>
<circle cx="311.10" cy="265.10" r="0.72" fill="#333"/>
<circle cx="366.20" cy="216.50" r="0.72" fill="#333"/>
<circle cx="413.40" cy="219.70" r="0.72" fill="#333"/>
<circle cx="394.40" cy="229.80" r="0.72" fill="#333"/>
<rect x="306.20" y="151.40" width="140.60" height="118.40" fill="none" stroke="rgba(30,30,30,0.8)" stroke-width="1"/>
<rect x="306.20" y="151.40" width="28.60" height="10.4" fill="#fff" stroke="rgba(30,30,30,0.85)" stroke-width="0.9"/>
<text opacity="0.99" x="320.50" y="155.80" font-size="4.2" text-anchor="middle" fill="#000">2/20/2015</text>
<text opacity="0.99" x="320.50" y="160.30" font-size="4.2" text-anchor="middle" fill="#000">Winter</text>
<text opacity="0.99" x="312.80" y="147.20" font-size="3.9" font-style="italic" text-anchor="middle" fill="#666">-4°48'</text>
<text opacity="0.99" x="329.70" y="147.20" font-size="3.9" font-style="italic" text-anchor="middle" fill="#666">-4°47'30&quot;</text>
<text opacity="0.99" x="346.60" y="147.20" font-size="3.9" font-style="italic" text-anchor="middle" fill="#666">-4°47'</text>
<text opacity="0.99" x="363.50" y="147.20" font-size="3.9" font-style="italic" text-anchor="middle" fill="#666">-4°46'30&quot;</text>
<text opacity="0.99" x="380.40" y="147.20" font-size="3.9" font-style="italic" text-anchor="middle" fill="#666">-4°46'</text>
<text opacity="0.99" x="397.30" y="147.20" font-size="3.9" font-style="italic" text-anchor="middle" fill="#666">-4°45'30&quot;</text>
<text opacity="0.99" x="414.20" y="147.20" font-size="3.9" font-style="italic" text-anchor="middle" fill="#666">-4°45'</text>
<text opacity="0.99" x="431.10" y="147.20" font-size="3.9" font-style="italic" text-anchor="middle" fill="#666">-4°44'30&quot;</text>
<line x1="311.20" y1="280.10" x2="435.60" y2="280.10" stroke="#cfcfcf" stroke-width="0.9"/>
<line x1="311.20" y1="278.90" x2="311.20" y2="280.60" stroke="#9a9a9a" stroke-width="0.6"/>
<line x1="373.50" y1="278.90" x2="373.50" y2="280.60" stroke="#9a9a9a" stroke-width="0.6"/>
<line x1="435.60" y1="278.90" x2="435.60" y2="280.60" stroke="#9a9a9a" stroke-width="0.6"/>
<text opacity="0.99" x="311.20" y="277.30" font-size="3.4" text-anchor="middle" fill="#777">0</text>
<text opacity="0.99" x="373.50" y="277.30" font-size="3.4" text-anchor="middle" fill="#777">2.5</text>
<text opacity="0.99" x="435.00" y="277.30" font-size="3.1" text-anchor="start" fill="#777">5 Km</text>
<text opacity="0.99" x="463" y="90.6" font-size="7" fill="#333" textLength="22" lengthAdjust="spacingAndGlyphs">Legend</text>
<circle cx="469.5" cy="97.2" r="0.9" fill="#222"/>
<text opacity="0.99" x="476.5" y="99.0" font-size="5.4" fill="#555">Sensor</text>
<rect x="465.2" y="102.8" width="8.4" height="3.2" fill="#fff" stroke="#222" stroke-width="0.9"/>
<text opacity="0.99" x="476.5" y="106.0" font-size="5.4" fill="#555">Sensor Delimitation</text>
<text opacity="0.99" x="464.9" y="114.4" font-size="5.3" fill="#555">Temperature (° C)</text>
<rect x="465" y="118.80" width="9" height="4" fill="rgb(0,100,255)"/>
<text opacity="0.99" x="476" y="122.70" font-size="5.3" fill="#4a4a4a">&lt; –5</text>
<rect x="465" y="125.73" width="9" height="4" fill="rgb(25,150,210)"/>
<text opacity="0.99" x="476" y="129.63" font-size="5.3" fill="#4a4a4a">–5 – 0</text>
<rect x="465" y="132.66" width="9" height="4" fill="rgb(45,168,195)"/>
<text opacity="0.99" x="476" y="136.56" font-size="5.3" fill="#4a4a4a">0.1 – 3</text>
<rect x="465" y="139.59" width="9" height="4" fill="rgb(100,185,175)"/>
<text opacity="0.99" x="476" y="143.49" font-size="5.3" fill="#4a4a4a">3.1 – 6</text>
<rect x="465" y="146.52" width="9" height="4" fill="rgb(120,198,162)"/>
<text opacity="0.99" x="476" y="150.42" font-size="5.3" fill="#4a4a4a">6.1 – 9</text>
<rect x="465" y="153.45" width="9" height="4" fill="rgb(130,203,160)"/>
<text opacity="0.99" x="476" y="157.35" font-size="5.3" fill="#4a4a4a">9.1 – 12</text>
<rect x="465" y="160.38" width="9" height="4" fill="rgb(195,228,120)"/>
<text opacity="0.99" x="476" y="164.28" font-size="5.3" fill="#4a4a4a">12.1 – 15</text>
<rect x="465" y="167.31" width="9" height="4" fill="rgb(225,240,85)"/>
<text opacity="0.99" x="476" y="171.21" font-size="5.3" fill="#4a4a4a">15.1 – 20</text>
<rect x="513.3" y="119.60" width="8.8" height="4" fill="rgb(248,238,90)"/>
<text opacity="0.99" x="525.8" y="123.50" font-size="5.3" fill="#4a4a4a">20.1 – 25</text>
<rect x="513.3" y="126.58" width="8.8" height="4" fill="rgb(253,205,75)"/>
<text opacity="0.99" x="525.8" y="130.48" font-size="5.3" fill="#4a4a4a">25.1 – 30</text>
<rect x="513.3" y="133.56" width="8.8" height="4" fill="rgb(253,172,72)"/>
<text opacity="0.99" x="525.8" y="137.46" font-size="5.3" fill="#4a4a4a">30.1 – 35</text>
<rect x="513.3" y="140.54" width="8.8" height="4" fill="rgb(255,145,45)"/>
<text opacity="0.99" x="525.8" y="144.44" font-size="5.3" fill="#4a4a4a">35.1 – 40</text>
<rect x="513.3" y="147.52" width="8.8" height="4" fill="rgb(255,118,30)"/>
<text opacity="0.99" x="525.8" y="151.42" font-size="5.3" fill="#4a4a4a">40.1 – 45</text>
<rect x="513.3" y="154.50" width="8.8" height="4" fill="rgb(255,80,28)"/>
<text opacity="0.99" x="525.8" y="158.40" font-size="5.3" fill="#4a4a4a">45.1 – 50</text>
<rect x="513.3" y="161.48" width="8.8" height="4" fill="rgb(255,20,20)"/>
<text opacity="0.99" x="525.8" y="165.38" font-size="5.3" fill="#4a4a4a">&gt; 50.1</text>
<text opacity="0.99" x="461.7" y="185.3" font-size="5.6" font-weight="bold" text-anchor="middle" fill="#333">N</text>
<path d="M461.7,186.2 L457.7,199 L461.7,195.6 Z" fill="#111"/>
<path d="M461.7,186.2 L465.9,199 L461.7,195.6 Z" fill="#fff" stroke="#111" stroke-width="0.5"/>
<text opacity="0.99" x="472" y="188.3" font-size="5.3" fill="#555" textLength="38.6" lengthAdjust="spacingAndGlyphs">Spatial Reference</text>
<text opacity="0.99" x="472" y="193.8" font-size="5.3" fill="#555" textLength="72.2" lengthAdjust="spacingAndGlyphs" xml:space="preserve">Name:  ETRS 1989 TM06-Portugal</text>
<text opacity="0.99" x="472" y="199.4" font-size="5.3" fill="#555" textLength="69.5" lengthAdjust="spacingAndGlyphs">Projection: Transverse Mercator</text>
</svg></body></html>
